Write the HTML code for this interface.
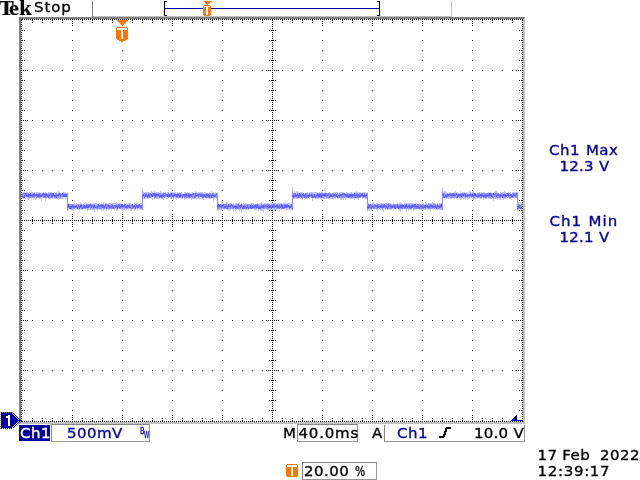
<!DOCTYPE html>
<html><head><meta charset="utf-8"><title>Tek</title>
<style>
html,body{margin:0;padding:0;background:#fff;overflow:hidden}
#scr{position:relative;width:640px;height:480px;background:#fff;overflow:hidden}
#scr svg{position:absolute;left:0;top:0}
#scr span{position:absolute;white-space:pre;line-height:1}
.s{font:15px "DejaVu Sans","Liberation Sans",sans-serif;letter-spacing:0.46px;word-spacing:0.8px;-webkit-text-stroke:0.35px;transform:scaleY(0.96);transform-origin:0 13.2px}
.tek{font:bold 21px "Liberation Serif","DejaVu Serif",serif;letter-spacing:0.3px;transform:scaleX(1.06);transform-origin:0 0;-webkit-text-stroke:0.2px}
.tek::first-letter{letter-spacing:-4.6px}
.s i{font-style:normal;display:inline-block;transform:scaleX(0.72);transform-origin:0 50%}
.bw{font:9.5px "DejaVu Sans","Liberation Sans",sans-serif;transform-origin:0 0;-webkit-text-stroke:0.3px}
</style></head><body><div id="scr">
<svg width="640" height="480" viewBox="0 0 640 480" shape-rendering="crispEdges"><rect x="19" y="17" width="506" height="2" fill="#808080"/><rect x="19" y="17" width="2" height="407" fill="#808080"/><rect x="523" y="19" width="2" height="405" fill="#c0c0c0"/><rect x="21" y="422" width="504" height="2" fill="#c0c0c0"/><rect x="524" y="18" width="1" height="1" fill="#c0c0c0"/><rect x="20" y="423" width="1" height="1" fill="#c0c0c0"/><rect x="93" y="16" width="359" height="1" fill="#c0c0c0"/><rect x="92" y="1" width="1" height="16" fill="#808080"/><rect x="451" y="1" width="1" height="16" fill="#c0c0c0"/><path fill="#000" d="M21 19h2v1h-2zM24 19h1v1h-1zM26 19h1v1h-1zM28 19h1v1h-1zM30 19h1v1h-1zM32 19h1v1h-1zM34 19h1v1h-1zM36 19h1v1h-1zM38 19h1v1h-1zM40 19h1v1h-1zM42 19h1v1h-1zM44 19h1v1h-1zM46 19h1v1h-1zM48 19h1v1h-1zM50 19h1v1h-1zM52 19h1v1h-1zM54 19h1v1h-1zM56 19h1v1h-1zM58 19h1v1h-1zM60 19h1v1h-1zM62 19h1v1h-1zM64 19h1v1h-1zM66 19h1v1h-1zM68 19h1v1h-1zM70 19h1v1h-1zM72 19h1v1h-1zM74 19h1v1h-1zM76 19h1v1h-1zM78 19h1v1h-1zM80 19h1v1h-1zM82 19h1v1h-1zM84 19h1v1h-1zM86 19h1v1h-1zM88 19h1v1h-1zM90 19h1v1h-1zM92 19h1v1h-1zM94 19h1v1h-1zM96 19h1v1h-1zM98 19h1v1h-1zM100 19h1v1h-1zM102 19h1v1h-1zM104 19h1v1h-1zM106 19h1v1h-1zM108 19h1v1h-1zM110 19h1v1h-1zM112 19h1v1h-1zM114 19h1v1h-1zM116 19h1v1h-1zM118 19h1v1h-1zM120 19h1v1h-1zM122 19h1v1h-1zM124 19h1v1h-1zM126 19h1v1h-1zM128 19h1v1h-1zM130 19h1v1h-1zM132 19h1v1h-1zM134 19h1v1h-1zM136 19h1v1h-1zM138 19h1v1h-1zM140 19h1v1h-1zM142 19h1v1h-1zM144 19h1v1h-1zM146 19h1v1h-1zM148 19h1v1h-1zM150 19h1v1h-1zM152 19h1v1h-1zM154 19h1v1h-1zM156 19h1v1h-1zM158 19h1v1h-1zM160 19h1v1h-1zM162 19h1v1h-1zM164 19h1v1h-1zM166 19h1v1h-1zM168 19h1v1h-1zM170 19h1v1h-1zM172 19h1v1h-1zM174 19h1v1h-1zM176 19h1v1h-1zM178 19h1v1h-1zM180 19h1v1h-1zM182 19h1v1h-1zM184 19h1v1h-1zM186 19h1v1h-1zM188 19h1v1h-1zM190 19h1v1h-1zM192 19h1v1h-1zM194 19h1v1h-1zM196 19h1v1h-1zM198 19h1v1h-1zM200 19h1v1h-1zM202 19h1v1h-1zM204 19h1v1h-1zM206 19h1v1h-1zM208 19h1v1h-1zM210 19h1v1h-1zM212 19h1v1h-1zM214 19h1v1h-1zM216 19h1v1h-1zM218 19h1v1h-1zM220 19h1v1h-1zM222 19h1v1h-1zM224 19h1v1h-1zM226 19h1v1h-1zM228 19h1v1h-1zM230 19h1v1h-1zM232 19h1v1h-1zM234 19h1v1h-1zM236 19h1v1h-1zM238 19h1v1h-1zM240 19h1v1h-1zM242 19h1v1h-1zM244 19h1v1h-1zM246 19h1v1h-1zM248 19h1v1h-1zM250 19h1v1h-1zM252 19h1v1h-1zM254 19h1v1h-1zM256 19h1v1h-1zM258 19h1v1h-1zM260 19h1v1h-1zM262 19h1v1h-1zM264 19h1v1h-1zM266 19h1v1h-1zM268 19h1v1h-1zM270 19h1v1h-1zM272 19h1v1h-1zM274 19h1v1h-1zM276 19h1v1h-1zM278 19h1v1h-1zM280 19h1v1h-1zM282 19h1v1h-1zM284 19h1v1h-1zM286 19h1v1h-1zM288 19h1v1h-1zM290 19h1v1h-1zM292 19h1v1h-1zM294 19h1v1h-1zM296 19h1v1h-1zM298 19h1v1h-1zM300 19h1v1h-1zM302 19h1v1h-1zM304 19h1v1h-1zM306 19h1v1h-1zM308 19h1v1h-1zM310 19h1v1h-1zM312 19h1v1h-1zM314 19h1v1h-1zM316 19h1v1h-1zM318 19h1v1h-1zM320 19h1v1h-1zM322 19h1v1h-1zM324 19h1v1h-1zM326 19h1v1h-1zM328 19h1v1h-1zM330 19h1v1h-1zM332 19h1v1h-1zM334 19h1v1h-1zM336 19h1v1h-1zM338 19h1v1h-1zM340 19h1v1h-1zM342 19h1v1h-1zM344 19h1v1h-1zM346 19h1v1h-1zM348 19h1v1h-1zM350 19h1v1h-1zM352 19h1v1h-1zM354 19h1v1h-1zM356 19h1v1h-1zM358 19h1v1h-1zM360 19h1v1h-1zM362 19h1v1h-1zM364 19h1v1h-1zM366 19h1v1h-1zM368 19h1v1h-1zM370 19h1v1h-1zM372 19h1v1h-1zM374 19h1v1h-1zM376 19h1v1h-1zM378 19h1v1h-1zM380 19h1v1h-1zM382 19h1v1h-1zM384 19h1v1h-1zM386 19h1v1h-1zM388 19h1v1h-1zM390 19h1v1h-1zM392 19h1v1h-1zM394 19h1v1h-1zM396 19h1v1h-1zM398 19h1v1h-1zM400 19h1v1h-1zM402 19h1v1h-1zM404 19h1v1h-1zM406 19h1v1h-1zM408 19h1v1h-1zM410 19h1v1h-1zM412 19h1v1h-1zM414 19h1v1h-1zM416 19h1v1h-1zM418 19h1v1h-1zM420 19h1v1h-1zM422 19h1v1h-1zM424 19h1v1h-1zM426 19h1v1h-1zM428 19h1v1h-1zM430 19h1v1h-1zM432 19h1v1h-1zM434 19h1v1h-1zM436 19h1v1h-1zM438 19h1v1h-1zM440 19h1v1h-1zM442 19h1v1h-1zM444 19h1v1h-1zM446 19h1v1h-1zM448 19h1v1h-1zM450 19h1v1h-1zM452 19h1v1h-1zM454 19h1v1h-1zM456 19h1v1h-1zM458 19h1v1h-1zM460 19h1v1h-1zM462 19h1v1h-1zM464 19h1v1h-1zM466 19h1v1h-1zM468 19h1v1h-1zM470 19h1v1h-1zM472 19h1v1h-1zM474 19h1v1h-1zM476 19h1v1h-1zM478 19h1v1h-1zM480 19h1v1h-1zM482 19h1v1h-1zM484 19h1v1h-1zM486 19h1v1h-1zM488 19h1v1h-1zM490 19h1v1h-1zM492 19h1v1h-1zM494 19h1v1h-1zM496 19h1v1h-1zM498 19h1v1h-1zM500 19h1v1h-1zM502 19h1v1h-1zM504 19h1v1h-1zM506 19h1v1h-1zM508 19h1v1h-1zM510 19h1v1h-1zM512 19h1v1h-1zM514 19h1v1h-1zM516 19h1v1h-1zM518 19h1v1h-1zM520 19h1v1h-1zM522 19h1v1h-1zM21 20h1v1h-1zM32 20h1v1h-1zM42 20h1v1h-1zM52 20h1v1h-1zM62 20h1v1h-1zM82 20h1v1h-1zM92 20h1v1h-1zM102 20h1v1h-1zM112 20h1v1h-1zM132 20h1v1h-1zM142 20h1v1h-1zM152 20h1v1h-1zM162 20h1v1h-1zM182 20h1v1h-1zM192 20h1v1h-1zM202 20h1v1h-1zM212 20h1v1h-1zM232 20h1v1h-1zM242 20h1v1h-1zM252 20h1v1h-1zM262 20h1v1h-1zM272 20h1v1h-1zM282 20h1v1h-1zM292 20h1v1h-1zM302 20h1v1h-1zM312 20h1v1h-1zM332 20h1v1h-1zM342 20h1v1h-1zM352 20h1v1h-1zM362 20h1v1h-1zM382 20h1v1h-1zM392 20h1v1h-1zM402 20h1v1h-1zM412 20h1v1h-1zM432 20h1v1h-1zM442 20h1v1h-1zM452 20h1v1h-1zM462 20h1v1h-1zM482 20h1v1h-1zM492 20h1v1h-1zM502 20h1v1h-1zM512 20h1v1h-1zM522 20h1v1h-1zM72 21h1v1h-1zM122 21h1v1h-1zM172 21h1v1h-1zM222 21h1v1h-1zM322 21h1v1h-1zM372 21h1v1h-1zM422 21h1v1h-1zM472 21h1v1h-1zM21 22h1v1h-1zM32 22h1v1h-1zM42 22h1v1h-1zM52 22h1v1h-1zM62 22h1v1h-1zM82 22h1v1h-1zM92 22h1v1h-1zM102 22h1v1h-1zM112 22h1v1h-1zM132 22h1v1h-1zM142 22h1v1h-1zM152 22h1v1h-1zM162 22h1v1h-1zM182 22h1v1h-1zM192 22h1v1h-1zM202 22h1v1h-1zM212 22h1v1h-1zM232 22h1v1h-1zM242 22h1v1h-1zM252 22h1v1h-1zM262 22h1v1h-1zM272 22h1v1h-1zM282 22h1v1h-1zM292 22h1v1h-1zM302 22h1v1h-1zM312 22h1v1h-1zM332 22h1v1h-1zM342 22h1v1h-1zM352 22h1v1h-1zM362 22h1v1h-1zM382 22h1v1h-1zM392 22h1v1h-1zM402 22h1v1h-1zM412 22h1v1h-1zM432 22h1v1h-1zM442 22h1v1h-1zM452 22h1v1h-1zM462 22h1v1h-1zM482 22h1v1h-1zM492 22h1v1h-1zM502 22h1v1h-1zM512 22h1v1h-1zM522 22h1v1h-1zM72 23h1v1h-1zM122 23h1v1h-1zM172 23h1v1h-1zM222 23h1v1h-1zM322 23h1v1h-1zM372 23h1v1h-1zM422 23h1v1h-1zM472 23h1v1h-1zM21 24h1v1h-1zM272 24h1v1h-1zM522 24h1v1h-1zM72 25h1v1h-1zM122 25h1v1h-1zM172 25h1v1h-1zM222 25h1v1h-1zM322 25h1v1h-1zM372 25h1v1h-1zM422 25h1v1h-1zM472 25h1v1h-1zM21 26h1v1h-1zM272 26h1v1h-1zM522 26h1v1h-1zM21 28h1v1h-1zM272 28h1v1h-1zM522 28h1v1h-1zM21 30h2v1h-2zM24 30h1v1h-1zM72 30h1v1h-1zM122 30h1v1h-1zM172 30h1v1h-1zM222 30h1v1h-1zM269 30h1v1h-1zM271 30h3v1h-3zM275 30h1v1h-1zM322 30h1v1h-1zM372 30h1v1h-1zM422 30h1v1h-1zM472 30h1v1h-1zM519 30h1v1h-1zM521 30h2v1h-2zM21 32h1v1h-1zM272 32h1v1h-1zM522 32h1v1h-1zM21 34h1v1h-1zM272 34h1v1h-1zM522 34h1v1h-1zM21 36h1v1h-1zM272 36h1v1h-1zM522 36h1v1h-1zM21 38h1v1h-1zM272 38h1v1h-1zM522 38h1v1h-1zM21 40h2v1h-2zM24 40h1v1h-1zM72 40h1v1h-1zM122 40h1v1h-1zM172 40h1v1h-1zM222 40h1v1h-1zM269 40h1v1h-1zM271 40h3v1h-3zM275 40h1v1h-1zM322 40h1v1h-1zM372 40h1v1h-1zM422 40h1v1h-1zM472 40h1v1h-1zM519 40h1v1h-1zM521 40h2v1h-2zM21 42h1v1h-1zM272 42h1v1h-1zM522 42h1v1h-1zM21 44h1v1h-1zM272 44h1v1h-1zM522 44h1v1h-1zM21 46h1v1h-1zM272 46h1v1h-1zM522 46h1v1h-1zM21 48h1v1h-1zM272 48h1v1h-1zM522 48h1v1h-1zM21 50h2v1h-2zM24 50h1v1h-1zM72 50h1v1h-1zM122 50h1v1h-1zM172 50h1v1h-1zM222 50h1v1h-1zM269 50h1v1h-1zM271 50h3v1h-3zM275 50h1v1h-1zM322 50h1v1h-1zM372 50h1v1h-1zM422 50h1v1h-1zM472 50h1v1h-1zM519 50h1v1h-1zM521 50h2v1h-2zM21 52h1v1h-1zM272 52h1v1h-1zM522 52h1v1h-1zM21 54h1v1h-1zM272 54h1v1h-1zM522 54h1v1h-1zM21 56h1v1h-1zM272 56h1v1h-1zM522 56h1v1h-1zM21 58h1v1h-1zM272 58h1v1h-1zM522 58h1v1h-1zM21 60h2v1h-2zM24 60h1v1h-1zM72 60h1v1h-1zM122 60h1v1h-1zM172 60h1v1h-1zM222 60h1v1h-1zM269 60h1v1h-1zM271 60h3v1h-3zM275 60h1v1h-1zM322 60h1v1h-1zM372 60h1v1h-1zM422 60h1v1h-1zM472 60h1v1h-1zM519 60h1v1h-1zM521 60h2v1h-2zM21 62h1v1h-1zM272 62h1v1h-1zM522 62h1v1h-1zM21 64h1v1h-1zM272 64h1v1h-1zM522 64h1v1h-1zM21 66h1v1h-1zM272 66h1v1h-1zM522 66h1v1h-1zM21 68h1v1h-1zM272 68h1v1h-1zM522 68h1v1h-1zM21 70h1v1h-1zM23 70h1v1h-1zM25 70h1v1h-1zM27 70h1v1h-1zM32 70h1v1h-1zM42 70h1v1h-1zM52 70h1v1h-1zM62 70h1v1h-1zM72 70h1v1h-1zM82 70h1v1h-1zM92 70h1v1h-1zM102 70h1v1h-1zM112 70h1v1h-1zM122 70h1v1h-1zM132 70h1v1h-1zM142 70h1v1h-1zM152 70h1v1h-1zM162 70h1v1h-1zM172 70h1v1h-1zM182 70h1v1h-1zM192 70h1v1h-1zM202 70h1v1h-1zM212 70h1v1h-1zM222 70h1v1h-1zM232 70h1v1h-1zM242 70h1v1h-1zM252 70h1v1h-1zM262 70h1v1h-1zM266 70h1v1h-1zM268 70h1v1h-1zM270 70h1v1h-1zM272 70h1v1h-1zM274 70h1v1h-1zM276 70h1v1h-1zM278 70h1v1h-1zM282 70h1v1h-1zM292 70h1v1h-1zM302 70h1v1h-1zM312 70h1v1h-1zM322 70h1v1h-1zM332 70h1v1h-1zM342 70h1v1h-1zM352 70h1v1h-1zM362 70h1v1h-1zM372 70h1v1h-1zM382 70h1v1h-1zM392 70h1v1h-1zM402 70h1v1h-1zM412 70h1v1h-1zM422 70h1v1h-1zM432 70h1v1h-1zM442 70h1v1h-1zM452 70h1v1h-1zM462 70h1v1h-1zM472 70h1v1h-1zM482 70h1v1h-1zM492 70h1v1h-1zM502 70h1v1h-1zM512 70h1v1h-1zM516 70h1v1h-1zM518 70h1v1h-1zM520 70h1v1h-1zM522 70h1v1h-1zM21 72h1v1h-1zM272 72h1v1h-1zM522 72h1v1h-1zM21 74h1v1h-1zM272 74h1v1h-1zM522 74h1v1h-1zM21 76h1v1h-1zM272 76h1v1h-1zM522 76h1v1h-1zM21 78h1v1h-1zM272 78h1v1h-1zM522 78h1v1h-1zM21 80h2v1h-2zM24 80h1v1h-1zM72 80h1v1h-1zM122 80h1v1h-1zM172 80h1v1h-1zM222 80h1v1h-1zM269 80h1v1h-1zM271 80h3v1h-3zM275 80h1v1h-1zM322 80h1v1h-1zM372 80h1v1h-1zM422 80h1v1h-1zM472 80h1v1h-1zM519 80h1v1h-1zM521 80h2v1h-2zM21 82h1v1h-1zM272 82h1v1h-1zM522 82h1v1h-1zM21 84h1v1h-1zM272 84h1v1h-1zM522 84h1v1h-1zM21 86h1v1h-1zM272 86h1v1h-1zM522 86h1v1h-1zM21 88h1v1h-1zM272 88h1v1h-1zM522 88h1v1h-1zM21 90h2v1h-2zM24 90h1v1h-1zM72 90h1v1h-1zM122 90h1v1h-1zM172 90h1v1h-1zM222 90h1v1h-1zM269 90h1v1h-1zM271 90h3v1h-3zM275 90h1v1h-1zM322 90h1v1h-1zM372 90h1v1h-1zM422 90h1v1h-1zM472 90h1v1h-1zM519 90h1v1h-1zM521 90h2v1h-2zM21 92h1v1h-1zM272 92h1v1h-1zM522 92h1v1h-1zM21 94h1v1h-1zM272 94h1v1h-1zM522 94h1v1h-1zM21 96h1v1h-1zM272 96h1v1h-1zM522 96h1v1h-1zM21 98h1v1h-1zM272 98h1v1h-1zM522 98h1v1h-1zM21 100h2v1h-2zM24 100h1v1h-1zM72 100h1v1h-1zM122 100h1v1h-1zM172 100h1v1h-1zM222 100h1v1h-1zM269 100h1v1h-1zM271 100h3v1h-3zM275 100h1v1h-1zM322 100h1v1h-1zM372 100h1v1h-1zM422 100h1v1h-1zM472 100h1v1h-1zM519 100h1v1h-1zM521 100h2v1h-2zM21 102h1v1h-1zM272 102h1v1h-1zM522 102h1v1h-1zM21 104h1v1h-1zM272 104h1v1h-1zM522 104h1v1h-1zM21 106h1v1h-1zM272 106h1v1h-1zM522 106h1v1h-1zM21 108h1v1h-1zM272 108h1v1h-1zM522 108h1v1h-1zM21 110h2v1h-2zM24 110h1v1h-1zM72 110h1v1h-1zM122 110h1v1h-1zM172 110h1v1h-1zM222 110h1v1h-1zM269 110h1v1h-1zM271 110h3v1h-3zM275 110h1v1h-1zM322 110h1v1h-1zM372 110h1v1h-1zM422 110h1v1h-1zM472 110h1v1h-1zM519 110h1v1h-1zM521 110h2v1h-2zM21 112h1v1h-1zM272 112h1v1h-1zM522 112h1v1h-1zM21 114h1v1h-1zM272 114h1v1h-1zM522 114h1v1h-1zM21 116h1v1h-1zM272 116h1v1h-1zM522 116h1v1h-1zM21 118h1v1h-1zM272 118h1v1h-1zM522 118h1v1h-1zM21 120h1v1h-1zM23 120h1v1h-1zM25 120h1v1h-1zM27 120h1v1h-1zM32 120h1v1h-1zM42 120h1v1h-1zM52 120h1v1h-1zM62 120h1v1h-1zM72 120h1v1h-1zM82 120h1v1h-1zM92 120h1v1h-1zM102 120h1v1h-1zM112 120h1v1h-1zM122 120h1v1h-1zM132 120h1v1h-1zM142 120h1v1h-1zM152 120h1v1h-1zM162 120h1v1h-1zM172 120h1v1h-1zM182 120h1v1h-1zM192 120h1v1h-1zM202 120h1v1h-1zM212 120h1v1h-1zM222 120h1v1h-1zM232 120h1v1h-1zM242 120h1v1h-1zM252 120h1v1h-1zM262 120h1v1h-1zM266 120h1v1h-1zM268 120h1v1h-1zM270 120h1v1h-1zM272 120h1v1h-1zM274 120h1v1h-1zM276 120h1v1h-1zM278 120h1v1h-1zM282 120h1v1h-1zM292 120h1v1h-1zM302 120h1v1h-1zM312 120h1v1h-1zM322 120h1v1h-1zM332 120h1v1h-1zM342 120h1v1h-1zM352 120h1v1h-1zM362 120h1v1h-1zM372 120h1v1h-1zM382 120h1v1h-1zM392 120h1v1h-1zM402 120h1v1h-1zM412 120h1v1h-1zM422 120h1v1h-1zM432 120h1v1h-1zM442 120h1v1h-1zM452 120h1v1h-1zM462 120h1v1h-1zM472 120h1v1h-1zM482 120h1v1h-1zM492 120h1v1h-1zM502 120h1v1h-1zM512 120h1v1h-1zM516 120h1v1h-1zM518 120h1v1h-1zM520 120h1v1h-1zM522 120h1v1h-1zM21 122h1v1h-1zM272 122h1v1h-1zM522 122h1v1h-1zM21 124h1v1h-1zM272 124h1v1h-1zM522 124h1v1h-1zM21 126h1v1h-1zM272 126h1v1h-1zM522 126h1v1h-1zM21 128h1v1h-1zM272 128h1v1h-1zM522 128h1v1h-1zM21 130h2v1h-2zM24 130h1v1h-1zM72 130h1v1h-1zM122 130h1v1h-1zM172 130h1v1h-1zM222 130h1v1h-1zM269 130h1v1h-1zM271 130h3v1h-3zM275 130h1v1h-1zM322 130h1v1h-1zM372 130h1v1h-1zM422 130h1v1h-1zM472 130h1v1h-1zM519 130h1v1h-1zM521 130h2v1h-2zM21 132h1v1h-1zM272 132h1v1h-1zM522 132h1v1h-1zM21 134h1v1h-1zM272 134h1v1h-1zM522 134h1v1h-1zM21 136h1v1h-1zM272 136h1v1h-1zM522 136h1v1h-1zM21 138h1v1h-1zM272 138h1v1h-1zM522 138h1v1h-1zM21 140h2v1h-2zM24 140h1v1h-1zM72 140h1v1h-1zM122 140h1v1h-1zM172 140h1v1h-1zM222 140h1v1h-1zM269 140h1v1h-1zM271 140h3v1h-3zM275 140h1v1h-1zM322 140h1v1h-1zM372 140h1v1h-1zM422 140h1v1h-1zM472 140h1v1h-1zM519 140h1v1h-1zM521 140h2v1h-2zM21 142h1v1h-1zM272 142h1v1h-1zM522 142h1v1h-1zM21 144h1v1h-1zM272 144h1v1h-1zM522 144h1v1h-1zM21 146h1v1h-1zM272 146h1v1h-1zM522 146h1v1h-1zM21 148h1v1h-1zM272 148h1v1h-1zM522 148h1v1h-1zM21 150h2v1h-2zM24 150h1v1h-1zM72 150h1v1h-1zM122 150h1v1h-1zM172 150h1v1h-1zM222 150h1v1h-1zM269 150h1v1h-1zM271 150h3v1h-3zM275 150h1v1h-1zM322 150h1v1h-1zM372 150h1v1h-1zM422 150h1v1h-1zM472 150h1v1h-1zM519 150h1v1h-1zM521 150h2v1h-2zM21 152h1v1h-1zM272 152h1v1h-1zM522 152h1v1h-1zM21 154h1v1h-1zM272 154h1v1h-1zM522 154h1v1h-1zM21 156h1v1h-1zM272 156h1v1h-1zM522 156h1v1h-1zM21 158h1v1h-1zM272 158h1v1h-1zM522 158h1v1h-1zM21 160h2v1h-2zM24 160h1v1h-1zM72 160h1v1h-1zM122 160h1v1h-1zM172 160h1v1h-1zM222 160h1v1h-1zM269 160h1v1h-1zM271 160h3v1h-3zM275 160h1v1h-1zM322 160h1v1h-1zM372 160h1v1h-1zM422 160h1v1h-1zM472 160h1v1h-1zM519 160h1v1h-1zM521 160h2v1h-2zM21 162h1v1h-1zM272 162h1v1h-1zM522 162h1v1h-1zM21 164h1v1h-1zM272 164h1v1h-1zM522 164h1v1h-1zM21 166h1v1h-1zM272 166h1v1h-1zM522 166h1v1h-1zM21 168h1v1h-1zM272 168h1v1h-1zM522 168h1v1h-1zM21 170h1v1h-1zM23 170h1v1h-1zM25 170h1v1h-1zM27 170h1v1h-1zM32 170h1v1h-1zM42 170h1v1h-1zM52 170h1v1h-1zM62 170h1v1h-1zM72 170h1v1h-1zM82 170h1v1h-1zM92 170h1v1h-1zM102 170h1v1h-1zM112 170h1v1h-1zM122 170h1v1h-1zM132 170h1v1h-1zM142 170h1v1h-1zM152 170h1v1h-1zM162 170h1v1h-1zM172 170h1v1h-1zM182 170h1v1h-1zM192 170h1v1h-1zM202 170h1v1h-1zM212 170h1v1h-1zM222 170h1v1h-1zM232 170h1v1h-1zM242 170h1v1h-1zM252 170h1v1h-1zM262 170h1v1h-1zM266 170h1v1h-1zM268 170h1v1h-1zM270 170h1v1h-1zM272 170h1v1h-1zM274 170h1v1h-1zM276 170h1v1h-1zM278 170h1v1h-1zM282 170h1v1h-1zM292 170h1v1h-1zM302 170h1v1h-1zM312 170h1v1h-1zM322 170h1v1h-1zM332 170h1v1h-1zM342 170h1v1h-1zM352 170h1v1h-1zM362 170h1v1h-1zM372 170h1v1h-1zM382 170h1v1h-1zM392 170h1v1h-1zM402 170h1v1h-1zM412 170h1v1h-1zM422 170h1v1h-1zM432 170h1v1h-1zM442 170h1v1h-1zM452 170h1v1h-1zM462 170h1v1h-1zM472 170h1v1h-1zM482 170h1v1h-1zM492 170h1v1h-1zM502 170h1v1h-1zM512 170h1v1h-1zM516 170h1v1h-1zM518 170h1v1h-1zM520 170h1v1h-1zM522 170h1v1h-1zM21 172h1v1h-1zM272 172h1v1h-1zM522 172h1v1h-1zM21 174h1v1h-1zM272 174h1v1h-1zM522 174h1v1h-1zM21 176h1v1h-1zM272 176h1v1h-1zM522 176h1v1h-1zM21 178h1v1h-1zM272 178h1v1h-1zM522 178h1v1h-1zM21 180h2v1h-2zM24 180h1v1h-1zM72 180h1v1h-1zM122 180h1v1h-1zM172 180h1v1h-1zM222 180h1v1h-1zM269 180h1v1h-1zM271 180h3v1h-3zM275 180h1v1h-1zM322 180h1v1h-1zM372 180h1v1h-1zM422 180h1v1h-1zM472 180h1v1h-1zM519 180h1v1h-1zM521 180h2v1h-2zM21 182h1v1h-1zM272 182h1v1h-1zM522 182h1v1h-1zM21 184h1v1h-1zM272 184h1v1h-1zM522 184h1v1h-1zM21 186h1v1h-1zM272 186h1v1h-1zM522 186h1v1h-1zM21 188h1v1h-1zM272 188h1v1h-1zM522 188h1v1h-1zM21 190h2v1h-2zM24 190h1v1h-1zM72 190h1v1h-1zM122 190h1v1h-1zM172 190h1v1h-1zM222 190h1v1h-1zM269 190h1v1h-1zM271 190h3v1h-3zM275 190h1v1h-1zM322 190h1v1h-1zM372 190h1v1h-1zM422 190h1v1h-1zM472 190h1v1h-1zM519 190h1v1h-1zM521 190h2v1h-2zM21 192h1v1h-1zM272 192h1v1h-1zM522 192h1v1h-1zM21 194h1v1h-1zM272 194h1v1h-1zM522 194h1v1h-1zM21 196h1v1h-1zM272 196h1v1h-1zM522 196h1v1h-1zM21 198h1v1h-1zM272 198h1v1h-1zM522 198h1v1h-1zM21 200h2v1h-2zM24 200h1v1h-1zM72 200h1v1h-1zM122 200h1v1h-1zM172 200h1v1h-1zM222 200h1v1h-1zM269 200h1v1h-1zM271 200h3v1h-3zM275 200h1v1h-1zM322 200h1v1h-1zM372 200h1v1h-1zM422 200h1v1h-1zM472 200h1v1h-1zM519 200h1v1h-1zM521 200h2v1h-2zM21 202h1v1h-1zM272 202h1v1h-1zM522 202h1v1h-1zM21 204h1v1h-1zM272 204h1v1h-1zM522 204h1v1h-1zM21 206h1v1h-1zM272 206h1v1h-1zM522 206h1v1h-1zM21 208h1v1h-1zM272 208h1v1h-1zM522 208h1v1h-1zM21 210h2v1h-2zM24 210h1v1h-1zM72 210h1v1h-1zM122 210h1v1h-1zM172 210h1v1h-1zM222 210h1v1h-1zM269 210h1v1h-1zM271 210h3v1h-3zM275 210h1v1h-1zM322 210h1v1h-1zM372 210h1v1h-1zM422 210h1v1h-1zM472 210h1v1h-1zM519 210h1v1h-1zM521 210h2v1h-2zM21 212h1v1h-1zM272 212h1v1h-1zM522 212h1v1h-1zM21 214h1v1h-1zM72 214h1v1h-1zM122 214h1v1h-1zM172 214h1v1h-1zM222 214h1v1h-1zM272 214h1v1h-1zM322 214h1v1h-1zM372 214h1v1h-1zM422 214h1v1h-1zM472 214h1v1h-1zM522 214h1v1h-1zM21 216h1v1h-1zM72 216h1v1h-1zM122 216h1v1h-1zM172 216h1v1h-1zM222 216h1v1h-1zM272 216h1v1h-1zM322 216h1v1h-1zM372 216h1v1h-1zM422 216h1v1h-1zM472 216h1v1h-1zM522 216h1v1h-1zM32 217h1v1h-1zM42 217h1v1h-1zM52 217h1v1h-1zM62 217h1v1h-1zM82 217h1v1h-1zM92 217h1v1h-1zM102 217h1v1h-1zM112 217h1v1h-1zM132 217h1v1h-1zM142 217h1v1h-1zM152 217h1v1h-1zM162 217h1v1h-1zM182 217h1v1h-1zM192 217h1v1h-1zM202 217h1v1h-1zM212 217h1v1h-1zM232 217h1v1h-1zM242 217h1v1h-1zM252 217h1v1h-1zM262 217h1v1h-1zM282 217h1v1h-1zM292 217h1v1h-1zM302 217h1v1h-1zM312 217h1v1h-1zM332 217h1v1h-1zM342 217h1v1h-1zM352 217h1v1h-1zM362 217h1v1h-1zM382 217h1v1h-1zM392 217h1v1h-1zM402 217h1v1h-1zM412 217h1v1h-1zM432 217h1v1h-1zM442 217h1v1h-1zM452 217h1v1h-1zM462 217h1v1h-1zM482 217h1v1h-1zM492 217h1v1h-1zM502 217h1v1h-1zM512 217h1v1h-1zM21 218h1v1h-1zM72 218h1v1h-1zM122 218h1v1h-1zM172 218h1v1h-1zM222 218h1v1h-1zM272 218h1v1h-1zM322 218h1v1h-1zM372 218h1v1h-1zM422 218h1v1h-1zM472 218h1v1h-1zM522 218h1v1h-1zM32 219h1v1h-1zM42 219h1v1h-1zM52 219h1v1h-1zM62 219h1v1h-1zM82 219h1v1h-1zM92 219h1v1h-1zM102 219h1v1h-1zM112 219h1v1h-1zM132 219h1v1h-1zM142 219h1v1h-1zM152 219h1v1h-1zM162 219h1v1h-1zM182 219h1v1h-1zM192 219h1v1h-1zM202 219h1v1h-1zM212 219h1v1h-1zM232 219h1v1h-1zM242 219h1v1h-1zM252 219h1v1h-1zM262 219h1v1h-1zM282 219h1v1h-1zM292 219h1v1h-1zM302 219h1v1h-1zM312 219h1v1h-1zM332 219h1v1h-1zM342 219h1v1h-1zM352 219h1v1h-1zM362 219h1v1h-1zM382 219h1v1h-1zM392 219h1v1h-1zM402 219h1v1h-1zM412 219h1v1h-1zM432 219h1v1h-1zM442 219h1v1h-1zM452 219h1v1h-1zM462 219h1v1h-1zM482 219h1v1h-1zM492 219h1v1h-1zM502 219h1v1h-1zM512 219h1v1h-1zM21 220h2v1h-2zM24 220h1v1h-1zM26 220h1v1h-1zM28 220h1v1h-1zM30 220h1v1h-1zM32 220h1v1h-1zM34 220h1v1h-1zM36 220h1v1h-1zM38 220h1v1h-1zM40 220h1v1h-1zM42 220h1v1h-1zM44 220h1v1h-1zM46 220h1v1h-1zM48 220h1v1h-1zM50 220h1v1h-1zM52 220h1v1h-1zM54 220h1v1h-1zM56 220h1v1h-1zM58 220h1v1h-1zM60 220h1v1h-1zM62 220h1v1h-1zM64 220h1v1h-1zM66 220h1v1h-1zM68 220h1v1h-1zM70 220h1v1h-1zM72 220h1v1h-1zM74 220h1v1h-1zM76 220h1v1h-1zM78 220h1v1h-1zM80 220h1v1h-1zM82 220h1v1h-1zM84 220h1v1h-1zM86 220h1v1h-1zM88 220h1v1h-1zM90 220h1v1h-1zM92 220h1v1h-1zM94 220h1v1h-1zM96 220h1v1h-1zM98 220h1v1h-1zM100 220h1v1h-1zM102 220h1v1h-1zM104 220h1v1h-1zM106 220h1v1h-1zM108 220h1v1h-1zM110 220h1v1h-1zM112 220h1v1h-1zM114 220h1v1h-1zM116 220h1v1h-1zM118 220h1v1h-1zM120 220h1v1h-1zM122 220h1v1h-1zM124 220h1v1h-1zM126 220h1v1h-1zM128 220h1v1h-1zM130 220h1v1h-1zM132 220h1v1h-1zM134 220h1v1h-1zM136 220h1v1h-1zM138 220h1v1h-1zM140 220h1v1h-1zM142 220h1v1h-1zM144 220h1v1h-1zM146 220h1v1h-1zM148 220h1v1h-1zM150 220h1v1h-1zM152 220h1v1h-1zM154 220h1v1h-1zM156 220h1v1h-1zM158 220h1v1h-1zM160 220h1v1h-1zM162 220h1v1h-1zM164 220h1v1h-1zM166 220h1v1h-1zM168 220h1v1h-1zM170 220h1v1h-1zM172 220h1v1h-1zM174 220h1v1h-1zM176 220h1v1h-1zM178 220h1v1h-1zM180 220h1v1h-1zM182 220h1v1h-1zM184 220h1v1h-1zM186 220h1v1h-1zM188 220h1v1h-1zM190 220h1v1h-1zM192 220h1v1h-1zM194 220h1v1h-1zM196 220h1v1h-1zM198 220h1v1h-1zM200 220h1v1h-1zM202 220h1v1h-1zM204 220h1v1h-1zM206 220h1v1h-1zM208 220h1v1h-1zM210 220h1v1h-1zM212 220h1v1h-1zM214 220h1v1h-1zM216 220h1v1h-1zM218 220h1v1h-1zM220 220h1v1h-1zM222 220h1v1h-1zM224 220h1v1h-1zM226 220h1v1h-1zM228 220h1v1h-1zM230 220h1v1h-1zM232 220h1v1h-1zM234 220h1v1h-1zM236 220h1v1h-1zM238 220h1v1h-1zM240 220h1v1h-1zM242 220h1v1h-1zM244 220h1v1h-1zM246 220h1v1h-1zM248 220h1v1h-1zM250 220h1v1h-1zM252 220h1v1h-1zM254 220h1v1h-1zM256 220h1v1h-1zM258 220h1v1h-1zM260 220h1v1h-1zM262 220h1v1h-1zM264 220h1v1h-1zM266 220h1v1h-1zM268 220h1v1h-1zM270 220h1v1h-1zM272 220h1v1h-1zM274 220h1v1h-1zM276 220h1v1h-1zM278 220h1v1h-1zM280 220h1v1h-1zM282 220h1v1h-1zM284 220h1v1h-1zM286 220h1v1h-1zM288 220h1v1h-1zM290 220h1v1h-1zM292 220h1v1h-1zM294 220h1v1h-1zM296 220h1v1h-1zM298 220h1v1h-1zM300 220h1v1h-1zM302 220h1v1h-1zM304 220h1v1h-1zM306 220h1v1h-1zM308 220h1v1h-1zM310 220h1v1h-1zM312 220h1v1h-1zM314 220h1v1h-1zM316 220h1v1h-1zM318 220h1v1h-1zM320 220h1v1h-1zM322 220h1v1h-1zM324 220h1v1h-1zM326 220h1v1h-1zM328 220h1v1h-1zM330 220h1v1h-1zM332 220h1v1h-1zM334 220h1v1h-1zM336 220h1v1h-1zM338 220h1v1h-1zM340 220h1v1h-1zM342 220h1v1h-1zM344 220h1v1h-1zM346 220h1v1h-1zM348 220h1v1h-1zM350 220h1v1h-1zM352 220h1v1h-1zM354 220h1v1h-1zM356 220h1v1h-1zM358 220h1v1h-1zM360 220h1v1h-1zM362 220h1v1h-1zM364 220h1v1h-1zM366 220h1v1h-1zM368 220h1v1h-1zM370 220h1v1h-1zM372 220h1v1h-1zM374 220h1v1h-1zM376 220h1v1h-1zM378 220h1v1h-1zM380 220h1v1h-1zM382 220h1v1h-1zM384 220h1v1h-1zM386 220h1v1h-1zM388 220h1v1h-1zM390 220h1v1h-1zM392 220h1v1h-1zM394 220h1v1h-1zM396 220h1v1h-1zM398 220h1v1h-1zM400 220h1v1h-1zM402 220h1v1h-1zM404 220h1v1h-1zM406 220h1v1h-1zM408 220h1v1h-1zM410 220h1v1h-1zM412 220h1v1h-1zM414 220h1v1h-1zM416 220h1v1h-1zM418 220h1v1h-1zM420 220h1v1h-1zM422 220h1v1h-1zM424 220h1v1h-1zM426 220h1v1h-1zM428 220h1v1h-1zM430 220h1v1h-1zM432 220h1v1h-1zM434 220h1v1h-1zM436 220h1v1h-1zM438 220h1v1h-1zM440 220h1v1h-1zM442 220h1v1h-1zM444 220h1v1h-1zM446 220h1v1h-1zM448 220h1v1h-1zM450 220h1v1h-1zM452 220h1v1h-1zM454 220h1v1h-1zM456 220h1v1h-1zM458 220h1v1h-1zM460 220h1v1h-1zM462 220h1v1h-1zM464 220h1v1h-1zM466 220h1v1h-1zM468 220h1v1h-1zM470 220h1v1h-1zM472 220h1v1h-1zM474 220h1v1h-1zM476 220h1v1h-1zM478 220h1v1h-1zM480 220h1v1h-1zM482 220h1v1h-1zM484 220h1v1h-1zM486 220h1v1h-1zM488 220h1v1h-1zM490 220h1v1h-1zM492 220h1v1h-1zM494 220h1v1h-1zM496 220h1v1h-1zM498 220h1v1h-1zM500 220h1v1h-1zM502 220h1v1h-1zM504 220h1v1h-1zM506 220h1v1h-1zM508 220h1v1h-1zM510 220h1v1h-1zM512 220h1v1h-1zM514 220h1v1h-1zM516 220h1v1h-1zM518 220h1v1h-1zM520 220h1v1h-1zM522 220h1v1h-1zM32 221h1v1h-1zM42 221h1v1h-1zM52 221h1v1h-1zM62 221h1v1h-1zM82 221h1v1h-1zM92 221h1v1h-1zM102 221h1v1h-1zM112 221h1v1h-1zM132 221h1v1h-1zM142 221h1v1h-1zM152 221h1v1h-1zM162 221h1v1h-1zM182 221h1v1h-1zM192 221h1v1h-1zM202 221h1v1h-1zM212 221h1v1h-1zM232 221h1v1h-1zM242 221h1v1h-1zM252 221h1v1h-1zM262 221h1v1h-1zM282 221h1v1h-1zM292 221h1v1h-1zM302 221h1v1h-1zM312 221h1v1h-1zM332 221h1v1h-1zM342 221h1v1h-1zM352 221h1v1h-1zM362 221h1v1h-1zM382 221h1v1h-1zM392 221h1v1h-1zM402 221h1v1h-1zM412 221h1v1h-1zM432 221h1v1h-1zM442 221h1v1h-1zM452 221h1v1h-1zM462 221h1v1h-1zM482 221h1v1h-1zM492 221h1v1h-1zM502 221h1v1h-1zM512 221h1v1h-1zM21 222h1v1h-1zM72 222h1v1h-1zM122 222h1v1h-1zM172 222h1v1h-1zM222 222h1v1h-1zM272 222h1v1h-1zM322 222h1v1h-1zM372 222h1v1h-1zM422 222h1v1h-1zM472 222h1v1h-1zM522 222h1v1h-1zM32 223h1v1h-1zM42 223h1v1h-1zM52 223h1v1h-1zM62 223h1v1h-1zM82 223h1v1h-1zM92 223h1v1h-1zM102 223h1v1h-1zM112 223h1v1h-1zM132 223h1v1h-1zM142 223h1v1h-1zM152 223h1v1h-1zM162 223h1v1h-1zM182 223h1v1h-1zM192 223h1v1h-1zM202 223h1v1h-1zM212 223h1v1h-1zM232 223h1v1h-1zM242 223h1v1h-1zM252 223h1v1h-1zM262 223h1v1h-1zM282 223h1v1h-1zM292 223h1v1h-1zM302 223h1v1h-1zM312 223h1v1h-1zM332 223h1v1h-1zM342 223h1v1h-1zM352 223h1v1h-1zM362 223h1v1h-1zM382 223h1v1h-1zM392 223h1v1h-1zM402 223h1v1h-1zM412 223h1v1h-1zM432 223h1v1h-1zM442 223h1v1h-1zM452 223h1v1h-1zM462 223h1v1h-1zM482 223h1v1h-1zM492 223h1v1h-1zM502 223h1v1h-1zM512 223h1v1h-1zM21 224h1v1h-1zM72 224h1v1h-1zM122 224h1v1h-1zM172 224h1v1h-1zM222 224h1v1h-1zM272 224h1v1h-1zM322 224h1v1h-1zM372 224h1v1h-1zM422 224h1v1h-1zM472 224h1v1h-1zM522 224h1v1h-1zM21 226h1v1h-1zM72 226h1v1h-1zM122 226h1v1h-1zM172 226h1v1h-1zM222 226h1v1h-1zM272 226h1v1h-1zM322 226h1v1h-1zM372 226h1v1h-1zM422 226h1v1h-1zM472 226h1v1h-1zM522 226h1v1h-1zM21 228h1v1h-1zM272 228h1v1h-1zM522 228h1v1h-1zM21 230h2v1h-2zM24 230h1v1h-1zM72 230h1v1h-1zM122 230h1v1h-1zM172 230h1v1h-1zM222 230h1v1h-1zM269 230h1v1h-1zM271 230h3v1h-3zM275 230h1v1h-1zM322 230h1v1h-1zM372 230h1v1h-1zM422 230h1v1h-1zM472 230h1v1h-1zM519 230h1v1h-1zM521 230h2v1h-2zM21 232h1v1h-1zM272 232h1v1h-1zM522 232h1v1h-1zM21 234h1v1h-1zM272 234h1v1h-1zM522 234h1v1h-1zM21 236h1v1h-1zM272 236h1v1h-1zM522 236h1v1h-1zM21 238h1v1h-1zM272 238h1v1h-1zM522 238h1v1h-1zM21 240h2v1h-2zM24 240h1v1h-1zM72 240h1v1h-1zM122 240h1v1h-1zM172 240h1v1h-1zM222 240h1v1h-1zM269 240h1v1h-1zM271 240h3v1h-3zM275 240h1v1h-1zM322 240h1v1h-1zM372 240h1v1h-1zM422 240h1v1h-1zM472 240h1v1h-1zM519 240h1v1h-1zM521 240h2v1h-2zM21 242h1v1h-1zM272 242h1v1h-1zM522 242h1v1h-1zM21 244h1v1h-1zM272 244h1v1h-1zM522 244h1v1h-1zM21 246h1v1h-1zM272 246h1v1h-1zM522 246h1v1h-1zM21 248h1v1h-1zM272 248h1v1h-1zM522 248h1v1h-1zM21 250h2v1h-2zM24 250h1v1h-1zM72 250h1v1h-1zM122 250h1v1h-1zM172 250h1v1h-1zM222 250h1v1h-1zM269 250h1v1h-1zM271 250h3v1h-3zM275 250h1v1h-1zM322 250h1v1h-1zM372 250h1v1h-1zM422 250h1v1h-1zM472 250h1v1h-1zM519 250h1v1h-1zM521 250h2v1h-2zM21 252h1v1h-1zM272 252h1v1h-1zM522 252h1v1h-1zM21 254h1v1h-1zM272 254h1v1h-1zM522 254h1v1h-1zM21 256h1v1h-1zM272 256h1v1h-1zM522 256h1v1h-1zM21 258h1v1h-1zM272 258h1v1h-1zM522 258h1v1h-1zM21 260h2v1h-2zM24 260h1v1h-1zM72 260h1v1h-1zM122 260h1v1h-1zM172 260h1v1h-1zM222 260h1v1h-1zM269 260h1v1h-1zM271 260h3v1h-3zM275 260h1v1h-1zM322 260h1v1h-1zM372 260h1v1h-1zM422 260h1v1h-1zM472 260h1v1h-1zM519 260h1v1h-1zM521 260h2v1h-2zM21 262h1v1h-1zM272 262h1v1h-1zM522 262h1v1h-1zM21 264h1v1h-1zM272 264h1v1h-1zM522 264h1v1h-1zM21 266h1v1h-1zM272 266h1v1h-1zM522 266h1v1h-1zM21 268h1v1h-1zM272 268h1v1h-1zM522 268h1v1h-1zM21 270h1v1h-1zM23 270h1v1h-1zM25 270h1v1h-1zM27 270h1v1h-1zM32 270h1v1h-1zM42 270h1v1h-1zM52 270h1v1h-1zM62 270h1v1h-1zM72 270h1v1h-1zM82 270h1v1h-1zM92 270h1v1h-1zM102 270h1v1h-1zM112 270h1v1h-1zM122 270h1v1h-1zM132 270h1v1h-1zM142 270h1v1h-1zM152 270h1v1h-1zM162 270h1v1h-1zM172 270h1v1h-1zM182 270h1v1h-1zM192 270h1v1h-1zM202 270h1v1h-1zM212 270h1v1h-1zM222 270h1v1h-1zM232 270h1v1h-1zM242 270h1v1h-1zM252 270h1v1h-1zM262 270h1v1h-1zM266 270h1v1h-1zM268 270h1v1h-1zM270 270h1v1h-1zM272 270h1v1h-1zM274 270h1v1h-1zM276 270h1v1h-1zM278 270h1v1h-1zM282 270h1v1h-1zM292 270h1v1h-1zM302 270h1v1h-1zM312 270h1v1h-1zM322 270h1v1h-1zM332 270h1v1h-1zM342 270h1v1h-1zM352 270h1v1h-1zM362 270h1v1h-1zM372 270h1v1h-1zM382 270h1v1h-1zM392 270h1v1h-1zM402 270h1v1h-1zM412 270h1v1h-1zM422 270h1v1h-1zM432 270h1v1h-1zM442 270h1v1h-1zM452 270h1v1h-1zM462 270h1v1h-1zM472 270h1v1h-1zM482 270h1v1h-1zM492 270h1v1h-1zM502 270h1v1h-1zM512 270h1v1h-1zM516 270h1v1h-1zM518 270h1v1h-1zM520 270h1v1h-1zM522 270h1v1h-1zM21 272h1v1h-1zM272 272h1v1h-1zM522 272h1v1h-1zM21 274h1v1h-1zM272 274h1v1h-1zM522 274h1v1h-1zM21 276h1v1h-1zM272 276h1v1h-1zM522 276h1v1h-1zM21 278h1v1h-1zM272 278h1v1h-1zM522 278h1v1h-1zM21 280h2v1h-2zM24 280h1v1h-1zM72 280h1v1h-1zM122 280h1v1h-1zM172 280h1v1h-1zM222 280h1v1h-1zM269 280h1v1h-1zM271 280h3v1h-3zM275 280h1v1h-1zM322 280h1v1h-1zM372 280h1v1h-1zM422 280h1v1h-1zM472 280h1v1h-1zM519 280h1v1h-1zM521 280h2v1h-2zM21 282h1v1h-1zM272 282h1v1h-1zM522 282h1v1h-1zM21 284h1v1h-1zM272 284h1v1h-1zM522 284h1v1h-1zM21 286h1v1h-1zM272 286h1v1h-1zM522 286h1v1h-1zM21 288h1v1h-1zM272 288h1v1h-1zM522 288h1v1h-1zM21 290h2v1h-2zM24 290h1v1h-1zM72 290h1v1h-1zM122 290h1v1h-1zM172 290h1v1h-1zM222 290h1v1h-1zM269 290h1v1h-1zM271 290h3v1h-3zM275 290h1v1h-1zM322 290h1v1h-1zM372 290h1v1h-1zM422 290h1v1h-1zM472 290h1v1h-1zM519 290h1v1h-1zM521 290h2v1h-2zM21 292h1v1h-1zM272 292h1v1h-1zM522 292h1v1h-1zM21 294h1v1h-1zM272 294h1v1h-1zM522 294h1v1h-1zM21 296h1v1h-1zM272 296h1v1h-1zM522 296h1v1h-1zM21 298h1v1h-1zM272 298h1v1h-1zM522 298h1v1h-1zM21 300h2v1h-2zM24 300h1v1h-1zM72 300h1v1h-1zM122 300h1v1h-1zM172 300h1v1h-1zM222 300h1v1h-1zM269 300h1v1h-1zM271 300h3v1h-3zM275 300h1v1h-1zM322 300h1v1h-1zM372 300h1v1h-1zM422 300h1v1h-1zM472 300h1v1h-1zM519 300h1v1h-1zM521 300h2v1h-2zM21 302h1v1h-1zM272 302h1v1h-1zM522 302h1v1h-1zM21 304h1v1h-1zM272 304h1v1h-1zM522 304h1v1h-1zM21 306h1v1h-1zM272 306h1v1h-1zM522 306h1v1h-1zM21 308h1v1h-1zM272 308h1v1h-1zM522 308h1v1h-1zM21 310h2v1h-2zM24 310h1v1h-1zM72 310h1v1h-1zM122 310h1v1h-1zM172 310h1v1h-1zM222 310h1v1h-1zM269 310h1v1h-1zM271 310h3v1h-3zM275 310h1v1h-1zM322 310h1v1h-1zM372 310h1v1h-1zM422 310h1v1h-1zM472 310h1v1h-1zM519 310h1v1h-1zM521 310h2v1h-2zM21 312h1v1h-1zM272 312h1v1h-1zM522 312h1v1h-1zM21 314h1v1h-1zM272 314h1v1h-1zM522 314h1v1h-1zM21 316h1v1h-1zM272 316h1v1h-1zM522 316h1v1h-1zM21 318h1v1h-1zM272 318h1v1h-1zM522 318h1v1h-1zM21 320h1v1h-1zM23 320h1v1h-1zM25 320h1v1h-1zM27 320h1v1h-1zM32 320h1v1h-1zM42 320h1v1h-1zM52 320h1v1h-1zM62 320h1v1h-1zM72 320h1v1h-1zM82 320h1v1h-1zM92 320h1v1h-1zM102 320h1v1h-1zM112 320h1v1h-1zM122 320h1v1h-1zM132 320h1v1h-1zM142 320h1v1h-1zM152 320h1v1h-1zM162 320h1v1h-1zM172 320h1v1h-1zM182 320h1v1h-1zM192 320h1v1h-1zM202 320h1v1h-1zM212 320h1v1h-1zM222 320h1v1h-1zM232 320h1v1h-1zM242 320h1v1h-1zM252 320h1v1h-1zM262 320h1v1h-1zM266 320h1v1h-1zM268 320h1v1h-1zM270 320h1v1h-1zM272 320h1v1h-1zM274 320h1v1h-1zM276 320h1v1h-1zM278 320h1v1h-1zM282 320h1v1h-1zM292 320h1v1h-1zM302 320h1v1h-1zM312 320h1v1h-1zM322 320h1v1h-1zM332 320h1v1h-1zM342 320h1v1h-1zM352 320h1v1h-1zM362 320h1v1h-1zM372 320h1v1h-1zM382 320h1v1h-1zM392 320h1v1h-1zM402 320h1v1h-1zM412 320h1v1h-1zM422 320h1v1h-1zM432 320h1v1h-1zM442 320h1v1h-1zM452 320h1v1h-1zM462 320h1v1h-1zM472 320h1v1h-1zM482 320h1v1h-1zM492 320h1v1h-1zM502 320h1v1h-1zM512 320h1v1h-1zM516 320h1v1h-1zM518 320h1v1h-1zM520 320h1v1h-1zM522 320h1v1h-1zM21 322h1v1h-1zM272 322h1v1h-1zM522 322h1v1h-1zM21 324h1v1h-1zM272 324h1v1h-1zM522 324h1v1h-1zM21 326h1v1h-1zM272 326h1v1h-1zM522 326h1v1h-1zM21 328h1v1h-1zM272 328h1v1h-1zM522 328h1v1h-1zM21 330h2v1h-2zM24 330h1v1h-1zM72 330h1v1h-1zM122 330h1v1h-1zM172 330h1v1h-1zM222 330h1v1h-1zM269 330h1v1h-1zM271 330h3v1h-3zM275 330h1v1h-1zM322 330h1v1h-1zM372 330h1v1h-1zM422 330h1v1h-1zM472 330h1v1h-1zM519 330h1v1h-1zM521 330h2v1h-2zM21 332h1v1h-1zM272 332h1v1h-1zM522 332h1v1h-1zM21 334h1v1h-1zM272 334h1v1h-1zM522 334h1v1h-1zM21 336h1v1h-1zM272 336h1v1h-1zM522 336h1v1h-1zM21 338h1v1h-1zM272 338h1v1h-1zM522 338h1v1h-1zM21 340h2v1h-2zM24 340h1v1h-1zM72 340h1v1h-1zM122 340h1v1h-1zM172 340h1v1h-1zM222 340h1v1h-1zM269 340h1v1h-1zM271 340h3v1h-3zM275 340h1v1h-1zM322 340h1v1h-1zM372 340h1v1h-1zM422 340h1v1h-1zM472 340h1v1h-1zM519 340h1v1h-1zM521 340h2v1h-2zM21 342h1v1h-1zM272 342h1v1h-1zM522 342h1v1h-1zM21 344h1v1h-1zM272 344h1v1h-1zM522 344h1v1h-1zM21 346h1v1h-1zM272 346h1v1h-1zM522 346h1v1h-1zM21 348h1v1h-1zM272 348h1v1h-1zM522 348h1v1h-1zM21 350h2v1h-2zM24 350h1v1h-1zM72 350h1v1h-1zM122 350h1v1h-1zM172 350h1v1h-1zM222 350h1v1h-1zM269 350h1v1h-1zM271 350h3v1h-3zM275 350h1v1h-1zM322 350h1v1h-1zM372 350h1v1h-1zM422 350h1v1h-1zM472 350h1v1h-1zM519 350h1v1h-1zM521 350h2v1h-2zM21 352h1v1h-1zM272 352h1v1h-1zM522 352h1v1h-1zM21 354h1v1h-1zM272 354h1v1h-1zM522 354h1v1h-1zM21 356h1v1h-1zM272 356h1v1h-1zM522 356h1v1h-1zM21 358h1v1h-1zM272 358h1v1h-1zM522 358h1v1h-1zM21 360h2v1h-2zM24 360h1v1h-1zM72 360h1v1h-1zM122 360h1v1h-1zM172 360h1v1h-1zM222 360h1v1h-1zM269 360h1v1h-1zM271 360h3v1h-3zM275 360h1v1h-1zM322 360h1v1h-1zM372 360h1v1h-1zM422 360h1v1h-1zM472 360h1v1h-1zM519 360h1v1h-1zM521 360h2v1h-2zM21 362h1v1h-1zM272 362h1v1h-1zM522 362h1v1h-1zM21 364h1v1h-1zM272 364h1v1h-1zM522 364h1v1h-1zM21 366h1v1h-1zM272 366h1v1h-1zM522 366h1v1h-1zM21 368h1v1h-1zM272 368h1v1h-1zM522 368h1v1h-1zM21 370h1v1h-1zM23 370h1v1h-1zM25 370h1v1h-1zM27 370h1v1h-1zM32 370h1v1h-1zM42 370h1v1h-1zM52 370h1v1h-1zM62 370h1v1h-1zM72 370h1v1h-1zM82 370h1v1h-1zM92 370h1v1h-1zM102 370h1v1h-1zM112 370h1v1h-1zM122 370h1v1h-1zM132 370h1v1h-1zM142 370h1v1h-1zM152 370h1v1h-1zM162 370h1v1h-1zM172 370h1v1h-1zM182 370h1v1h-1zM192 370h1v1h-1zM202 370h1v1h-1zM212 370h1v1h-1zM222 370h1v1h-1zM232 370h1v1h-1zM242 370h1v1h-1zM252 370h1v1h-1zM262 370h1v1h-1zM266 370h1v1h-1zM268 370h1v1h-1zM270 370h1v1h-1zM272 370h1v1h-1zM274 370h1v1h-1zM276 370h1v1h-1zM278 370h1v1h-1zM282 370h1v1h-1zM292 370h1v1h-1zM302 370h1v1h-1zM312 370h1v1h-1zM322 370h1v1h-1zM332 370h1v1h-1zM342 370h1v1h-1zM352 370h1v1h-1zM362 370h1v1h-1zM372 370h1v1h-1zM382 370h1v1h-1zM392 370h1v1h-1zM402 370h1v1h-1zM412 370h1v1h-1zM422 370h1v1h-1zM432 370h1v1h-1zM442 370h1v1h-1zM452 370h1v1h-1zM462 370h1v1h-1zM472 370h1v1h-1zM482 370h1v1h-1zM492 370h1v1h-1zM502 370h1v1h-1zM512 370h1v1h-1zM516 370h1v1h-1zM518 370h1v1h-1zM520 370h1v1h-1zM522 370h1v1h-1zM21 372h1v1h-1zM272 372h1v1h-1zM522 372h1v1h-1zM21 374h1v1h-1zM272 374h1v1h-1zM522 374h1v1h-1zM21 376h1v1h-1zM272 376h1v1h-1zM522 376h1v1h-1zM21 378h1v1h-1zM272 378h1v1h-1zM522 378h1v1h-1zM21 380h2v1h-2zM24 380h1v1h-1zM72 380h1v1h-1zM122 380h1v1h-1zM172 380h1v1h-1zM222 380h1v1h-1zM269 380h1v1h-1zM271 380h3v1h-3zM275 380h1v1h-1zM322 380h1v1h-1zM372 380h1v1h-1zM422 380h1v1h-1zM472 380h1v1h-1zM519 380h1v1h-1zM521 380h2v1h-2zM21 382h1v1h-1zM272 382h1v1h-1zM522 382h1v1h-1zM21 384h1v1h-1zM272 384h1v1h-1zM522 384h1v1h-1zM21 386h1v1h-1zM272 386h1v1h-1zM522 386h1v1h-1zM21 388h1v1h-1zM272 388h1v1h-1zM522 388h1v1h-1zM21 390h2v1h-2zM24 390h1v1h-1zM72 390h1v1h-1zM122 390h1v1h-1zM172 390h1v1h-1zM222 390h1v1h-1zM269 390h1v1h-1zM271 390h3v1h-3zM275 390h1v1h-1zM322 390h1v1h-1zM372 390h1v1h-1zM422 390h1v1h-1zM472 390h1v1h-1zM519 390h1v1h-1zM521 390h2v1h-2zM21 392h1v1h-1zM272 392h1v1h-1zM522 392h1v1h-1zM21 394h1v1h-1zM272 394h1v1h-1zM522 394h1v1h-1zM21 396h1v1h-1zM272 396h1v1h-1zM522 396h1v1h-1zM21 398h1v1h-1zM272 398h1v1h-1zM522 398h1v1h-1zM21 400h2v1h-2zM24 400h1v1h-1zM72 400h1v1h-1zM122 400h1v1h-1zM172 400h1v1h-1zM222 400h1v1h-1zM269 400h1v1h-1zM271 400h3v1h-3zM275 400h1v1h-1zM322 400h1v1h-1zM372 400h1v1h-1zM422 400h1v1h-1zM472 400h1v1h-1zM519 400h1v1h-1zM521 400h2v1h-2zM21 402h1v1h-1zM272 402h1v1h-1zM522 402h1v1h-1zM21 404h1v1h-1zM272 404h1v1h-1zM522 404h1v1h-1zM21 406h1v1h-1zM272 406h1v1h-1zM522 406h1v1h-1zM21 408h1v1h-1zM272 408h1v1h-1zM522 408h1v1h-1zM21 410h2v1h-2zM24 410h1v1h-1zM72 410h1v1h-1zM122 410h1v1h-1zM172 410h1v1h-1zM222 410h1v1h-1zM269 410h1v1h-1zM271 410h3v1h-3zM275 410h1v1h-1zM322 410h1v1h-1zM372 410h1v1h-1zM422 410h1v1h-1zM472 410h1v1h-1zM519 410h1v1h-1zM521 410h2v1h-2zM21 412h1v1h-1zM272 412h1v1h-1zM522 412h1v1h-1zM21 414h1v1h-1zM272 414h1v1h-1zM522 414h1v1h-1zM72 415h1v1h-1zM122 415h1v1h-1zM172 415h1v1h-1zM222 415h1v1h-1zM322 415h1v1h-1zM372 415h1v1h-1zM422 415h1v1h-1zM472 415h1v1h-1zM21 416h1v1h-1zM272 416h1v1h-1zM522 416h1v1h-1zM72 417h1v1h-1zM122 417h1v1h-1zM172 417h1v1h-1zM222 417h1v1h-1zM322 417h1v1h-1zM372 417h1v1h-1zM422 417h1v1h-1zM472 417h1v1h-1zM21 418h1v1h-1zM32 418h1v1h-1zM42 418h1v1h-1zM52 418h1v1h-1zM62 418h1v1h-1zM82 418h1v1h-1zM92 418h1v1h-1zM102 418h1v1h-1zM112 418h1v1h-1zM132 418h1v1h-1zM142 418h1v1h-1zM152 418h1v1h-1zM162 418h1v1h-1zM182 418h1v1h-1zM192 418h1v1h-1zM202 418h1v1h-1zM212 418h1v1h-1zM232 418h1v1h-1zM242 418h1v1h-1zM252 418h1v1h-1zM262 418h1v1h-1zM272 418h1v1h-1zM282 418h1v1h-1zM292 418h1v1h-1zM302 418h1v1h-1zM312 418h1v1h-1zM332 418h1v1h-1zM342 418h1v1h-1zM352 418h1v1h-1zM362 418h1v1h-1zM382 418h1v1h-1zM392 418h1v1h-1zM402 418h1v1h-1zM412 418h1v1h-1zM432 418h1v1h-1zM442 418h1v1h-1zM452 418h1v1h-1zM462 418h1v1h-1zM482 418h1v1h-1zM492 418h1v1h-1zM502 418h1v1h-1zM512 418h1v1h-1zM522 418h1v1h-1zM72 419h1v1h-1zM122 419h1v1h-1zM172 419h1v1h-1zM222 419h1v1h-1zM322 419h1v1h-1zM372 419h1v1h-1zM422 419h1v1h-1zM472 419h1v1h-1zM21 420h1v1h-1zM32 420h1v1h-1zM42 420h1v1h-1zM52 420h1v1h-1zM62 420h1v1h-1zM82 420h1v1h-1zM92 420h1v1h-1zM102 420h1v1h-1zM112 420h1v1h-1zM132 420h1v1h-1zM142 420h1v1h-1zM152 420h1v1h-1zM162 420h1v1h-1zM182 420h1v1h-1zM192 420h1v1h-1zM202 420h1v1h-1zM212 420h1v1h-1zM232 420h1v1h-1zM242 420h1v1h-1zM252 420h1v1h-1zM262 420h1v1h-1zM272 420h1v1h-1zM282 420h1v1h-1zM292 420h1v1h-1zM302 420h1v1h-1zM312 420h1v1h-1zM332 420h1v1h-1zM342 420h1v1h-1zM352 420h1v1h-1zM362 420h1v1h-1zM382 420h1v1h-1zM392 420h1v1h-1zM402 420h1v1h-1zM412 420h1v1h-1zM432 420h1v1h-1zM442 420h1v1h-1zM452 420h1v1h-1zM462 420h1v1h-1zM482 420h1v1h-1zM492 420h1v1h-1zM502 420h1v1h-1zM512 420h1v1h-1zM522 420h1v1h-1zM21 421h2v1h-2zM24 421h1v1h-1zM26 421h1v1h-1zM28 421h1v1h-1zM30 421h1v1h-1zM32 421h1v1h-1zM34 421h1v1h-1zM36 421h1v1h-1zM38 421h1v1h-1zM40 421h1v1h-1zM42 421h1v1h-1zM44 421h1v1h-1zM46 421h1v1h-1zM48 421h1v1h-1zM50 421h1v1h-1zM52 421h1v1h-1zM54 421h1v1h-1zM56 421h1v1h-1zM58 421h1v1h-1zM60 421h1v1h-1zM62 421h1v1h-1zM64 421h1v1h-1zM66 421h1v1h-1zM68 421h1v1h-1zM70 421h1v1h-1zM72 421h1v1h-1zM74 421h1v1h-1zM76 421h1v1h-1zM78 421h1v1h-1zM80 421h1v1h-1zM82 421h1v1h-1zM84 421h1v1h-1zM86 421h1v1h-1zM88 421h1v1h-1zM90 421h1v1h-1zM92 421h1v1h-1zM94 421h1v1h-1zM96 421h1v1h-1zM98 421h1v1h-1zM100 421h1v1h-1zM102 421h1v1h-1zM104 421h1v1h-1zM106 421h1v1h-1zM108 421h1v1h-1zM110 421h1v1h-1zM112 421h1v1h-1zM114 421h1v1h-1zM116 421h1v1h-1zM118 421h1v1h-1zM120 421h1v1h-1zM122 421h1v1h-1zM124 421h1v1h-1zM126 421h1v1h-1zM128 421h1v1h-1zM130 421h1v1h-1zM132 421h1v1h-1zM134 421h1v1h-1zM136 421h1v1h-1zM138 421h1v1h-1zM140 421h1v1h-1zM142 421h1v1h-1zM144 421h1v1h-1zM146 421h1v1h-1zM148 421h1v1h-1zM150 421h1v1h-1zM152 421h1v1h-1zM154 421h1v1h-1zM156 421h1v1h-1zM158 421h1v1h-1zM160 421h1v1h-1zM162 421h1v1h-1zM164 421h1v1h-1zM166 421h1v1h-1zM168 421h1v1h-1zM170 421h1v1h-1zM172 421h1v1h-1zM174 421h1v1h-1zM176 421h1v1h-1zM178 421h1v1h-1zM180 421h1v1h-1zM182 421h1v1h-1zM184 421h1v1h-1zM186 421h1v1h-1zM188 421h1v1h-1zM190 421h1v1h-1zM192 421h1v1h-1zM194 421h1v1h-1zM196 421h1v1h-1zM198 421h1v1h-1zM200 421h1v1h-1zM202 421h1v1h-1zM204 421h1v1h-1zM206 421h1v1h-1zM208 421h1v1h-1zM210 421h1v1h-1zM212 421h1v1h-1zM214 421h1v1h-1zM216 421h1v1h-1zM218 421h1v1h-1zM220 421h1v1h-1zM222 421h1v1h-1zM224 421h1v1h-1zM226 421h1v1h-1zM228 421h1v1h-1zM230 421h1v1h-1zM232 421h1v1h-1zM234 421h1v1h-1zM236 421h1v1h-1zM238 421h1v1h-1zM240 421h1v1h-1zM242 421h1v1h-1zM244 421h1v1h-1zM246 421h1v1h-1zM248 421h1v1h-1zM250 421h1v1h-1zM252 421h1v1h-1zM254 421h1v1h-1zM256 421h1v1h-1zM258 421h1v1h-1zM260 421h1v1h-1zM262 421h1v1h-1zM264 421h1v1h-1zM266 421h1v1h-1zM268 421h1v1h-1zM270 421h1v1h-1zM272 421h1v1h-1zM274 421h1v1h-1zM276 421h1v1h-1zM278 421h1v1h-1zM280 421h1v1h-1zM282 421h1v1h-1zM284 421h1v1h-1zM286 421h1v1h-1zM288 421h1v1h-1zM290 421h1v1h-1zM292 421h1v1h-1zM294 421h1v1h-1zM296 421h1v1h-1zM298 421h1v1h-1zM300 421h1v1h-1zM302 421h1v1h-1zM304 421h1v1h-1zM306 421h1v1h-1zM308 421h1v1h-1zM310 421h1v1h-1zM312 421h1v1h-1zM314 421h1v1h-1zM316 421h1v1h-1zM318 421h1v1h-1zM320 421h1v1h-1zM322 421h1v1h-1zM324 421h1v1h-1zM326 421h1v1h-1zM328 421h1v1h-1zM330 421h1v1h-1zM332 421h1v1h-1zM334 421h1v1h-1zM336 421h1v1h-1zM338 421h1v1h-1zM340 421h1v1h-1zM342 421h1v1h-1zM344 421h1v1h-1zM346 421h1v1h-1zM348 421h1v1h-1zM350 421h1v1h-1zM352 421h1v1h-1zM354 421h1v1h-1zM356 421h1v1h-1zM358 421h1v1h-1zM360 421h1v1h-1zM362 421h1v1h-1zM364 421h1v1h-1zM366 421h1v1h-1zM368 421h1v1h-1zM370 421h1v1h-1zM372 421h1v1h-1zM374 421h1v1h-1zM376 421h1v1h-1zM378 421h1v1h-1zM380 421h1v1h-1zM382 421h1v1h-1zM384 421h1v1h-1zM386 421h1v1h-1zM388 421h1v1h-1zM390 421h1v1h-1zM392 421h1v1h-1zM394 421h1v1h-1zM396 421h1v1h-1zM398 421h1v1h-1zM400 421h1v1h-1zM402 421h1v1h-1zM404 421h1v1h-1zM406 421h1v1h-1zM408 421h1v1h-1zM410 421h1v1h-1zM412 421h1v1h-1zM414 421h1v1h-1zM416 421h1v1h-1zM418 421h1v1h-1zM420 421h1v1h-1zM422 421h1v1h-1zM424 421h1v1h-1zM426 421h1v1h-1zM428 421h1v1h-1zM430 421h1v1h-1zM432 421h1v1h-1zM434 421h1v1h-1zM436 421h1v1h-1zM438 421h1v1h-1zM440 421h1v1h-1zM442 421h1v1h-1zM444 421h1v1h-1zM446 421h1v1h-1zM448 421h1v1h-1zM450 421h1v1h-1zM452 421h1v1h-1zM454 421h1v1h-1zM456 421h1v1h-1zM458 421h1v1h-1zM460 421h1v1h-1zM462 421h1v1h-1zM464 421h1v1h-1zM466 421h1v1h-1zM468 421h1v1h-1zM470 421h1v1h-1zM472 421h1v1h-1zM474 421h1v1h-1zM476 421h1v1h-1zM478 421h1v1h-1zM480 421h1v1h-1zM482 421h1v1h-1zM484 421h1v1h-1zM486 421h1v1h-1zM488 421h1v1h-1zM490 421h1v1h-1zM492 421h1v1h-1zM494 421h1v1h-1zM496 421h1v1h-1zM498 421h1v1h-1zM500 421h1v1h-1zM502 421h1v1h-1zM504 421h1v1h-1zM506 421h1v1h-1zM508 421h1v1h-1zM510 421h1v1h-1zM512 421h1v1h-1zM514 421h1v1h-1zM516 421h1v1h-1zM518 421h1v1h-1zM520 421h1v1h-1zM522 421h1v1h-1z"/><path fill="#c8c8ff" d="M22 192h1v7h-1zM23 192h1v7h-1zM24 191h1v8h-1zM25 193h1v6h-1zM26 192h1v6h-1zM27 192h1v7h-1zM28 193h1v7h-1zM29 192h1v7h-1zM30 193h1v5h-1zM31 191h1v8h-1zM32 192h1v6h-1zM33 193h1v6h-1zM34 192h1v6h-1zM35 193h1v7h-1zM36 192h1v7h-1zM37 192h1v6h-1zM38 192h1v6h-1zM39 192h1v7h-1zM40 193h1v6h-1zM41 193h1v8h-1zM42 193h1v5h-1zM43 192h1v6h-1zM44 193h1v5h-1zM45 192h1v9h-1zM46 193h1v6h-1zM47 193h1v5h-1zM48 192h1v7h-1zM49 192h1v7h-1zM50 192h1v7h-1zM51 192h1v6h-1zM52 193h1v6h-1zM53 193h1v6h-1zM54 192h1v7h-1zM55 193h1v6h-1zM56 192h1v7h-1zM57 193h1v6h-1zM58 191h1v7h-1zM59 192h1v7h-1zM60 193h1v6h-1zM61 193h1v6h-1zM62 193h1v6h-1zM63 192h1v7h-1zM64 192h1v6h-1zM65 193h1v6h-1zM66 193h1v6h-1zM67 202h1v7h-1zM68 203h1v7h-1zM69 203h1v6h-1zM70 204h1v6h-1zM71 204h1v6h-1zM72 204h1v7h-1zM73 204h1v7h-1zM74 203h1v6h-1zM75 204h1v6h-1zM76 203h1v6h-1zM77 204h1v6h-1zM78 204h1v6h-1zM79 204h1v7h-1zM80 202h1v8h-1zM81 203h1v7h-1zM82 204h1v6h-1zM83 204h1v5h-1zM84 203h1v6h-1zM85 202h1v7h-1zM86 203h1v7h-1zM87 203h1v8h-1zM88 204h1v6h-1zM89 204h1v6h-1zM90 203h1v7h-1zM91 203h1v7h-1zM92 204h1v6h-1zM93 203h1v7h-1zM94 203h1v9h-1zM95 203h1v7h-1zM96 203h1v7h-1zM97 204h1v7h-1zM98 203h1v7h-1zM99 203h1v7h-1zM100 204h1v6h-1zM101 203h1v8h-1zM102 204h1v6h-1zM103 202h1v9h-1zM104 204h1v6h-1zM105 203h1v7h-1zM106 203h1v8h-1zM107 204h1v5h-1zM108 203h1v7h-1zM109 203h1v7h-1zM110 203h1v6h-1zM111 204h1v7h-1zM112 203h1v6h-1zM113 203h1v6h-1zM114 203h1v7h-1zM115 203h1v6h-1zM116 202h1v9h-1zM117 203h1v7h-1zM118 204h1v5h-1zM119 203h1v6h-1zM120 203h1v7h-1zM121 204h1v6h-1zM122 204h1v7h-1zM123 204h1v6h-1zM124 203h1v7h-1zM125 204h1v5h-1zM126 203h1v7h-1zM127 204h1v5h-1zM128 203h1v7h-1zM129 203h1v6h-1zM130 203h1v8h-1zM131 204h1v7h-1zM132 204h1v5h-1zM133 204h1v5h-1zM134 203h1v8h-1zM135 204h1v6h-1zM136 203h1v6h-1zM137 203h1v8h-1zM138 204h1v5h-1zM139 203h1v7h-1zM140 203h1v7h-1zM141 203h1v6h-1zM142 192h1v6h-1zM143 192h1v7h-1zM144 192h1v7h-1zM145 192h1v7h-1zM146 192h1v7h-1zM147 192h1v7h-1zM148 192h1v7h-1zM149 192h1v6h-1zM150 193h1v5h-1zM151 191h1v8h-1zM152 192h1v8h-1zM153 193h1v5h-1zM154 191h1v8h-1zM155 192h1v6h-1zM156 192h1v7h-1zM157 192h1v7h-1zM158 192h1v7h-1zM159 193h1v6h-1zM160 191h1v7h-1zM161 192h1v7h-1zM162 193h1v6h-1zM163 192h1v8h-1zM164 193h1v5h-1zM165 192h1v6h-1zM166 193h1v6h-1zM167 192h1v7h-1zM168 192h1v6h-1zM169 193h1v5h-1zM170 192h1v7h-1zM171 192h1v7h-1zM172 192h1v7h-1zM173 192h1v8h-1zM174 192h1v6h-1zM175 192h1v7h-1zM176 193h1v7h-1zM177 192h1v6h-1zM178 193h1v6h-1zM179 192h1v6h-1zM180 193h1v5h-1zM181 192h1v7h-1zM182 193h1v6h-1zM183 193h1v5h-1zM184 192h1v8h-1zM185 192h1v7h-1zM186 193h1v6h-1zM187 192h1v6h-1zM188 193h1v6h-1zM189 192h1v7h-1zM190 193h1v5h-1zM191 193h1v7h-1zM192 192h1v7h-1zM193 193h1v6h-1zM194 193h1v6h-1zM195 191h1v8h-1zM196 192h1v7h-1zM197 193h1v6h-1zM198 192h1v7h-1zM199 192h1v7h-1zM200 192h1v7h-1zM201 192h1v6h-1zM202 192h1v7h-1zM203 193h1v7h-1zM204 192h1v6h-1zM205 192h1v6h-1zM206 193h1v6h-1zM207 193h1v5h-1zM208 193h1v6h-1zM209 192h1v7h-1zM210 193h1v6h-1zM211 191h1v8h-1zM212 192h1v6h-1zM213 192h1v10h-1zM214 193h1v6h-1zM215 192h1v6h-1zM216 193h1v6h-1zM217 202h1v8h-1zM218 203h1v8h-1zM219 204h1v6h-1zM220 204h1v7h-1zM221 203h1v7h-1zM222 202h1v8h-1zM223 203h1v6h-1zM224 204h1v6h-1zM225 204h1v5h-1zM226 202h1v8h-1zM227 202h1v8h-1zM228 204h1v7h-1zM229 203h1v8h-1zM230 203h1v7h-1zM231 203h1v6h-1zM232 204h1v6h-1zM233 203h1v9h-1zM234 204h1v6h-1zM235 203h1v8h-1zM236 203h1v7h-1zM237 203h1v6h-1zM238 203h1v7h-1zM239 202h1v10h-1zM240 204h1v6h-1zM241 203h1v10h-1zM242 204h1v6h-1zM243 203h1v7h-1zM244 204h1v5h-1zM245 203h1v7h-1zM246 203h1v7h-1zM247 204h1v6h-1zM248 204h1v6h-1zM249 204h1v5h-1zM250 203h1v7h-1zM251 203h1v6h-1zM252 203h1v6h-1zM253 203h1v6h-1zM254 204h1v6h-1zM255 204h1v6h-1zM256 204h1v6h-1zM257 203h1v6h-1zM258 204h1v7h-1zM259 203h1v7h-1zM260 203h1v8h-1zM261 202h1v9h-1zM262 203h1v8h-1zM263 204h1v8h-1zM264 203h1v7h-1zM265 203h1v7h-1zM266 203h1v6h-1zM267 203h1v7h-1zM268 203h1v7h-1zM269 204h1v6h-1zM270 203h1v8h-1zM271 203h1v7h-1zM272 204h1v6h-1zM273 203h1v8h-1zM274 203h1v8h-1zM275 203h1v7h-1zM276 203h1v7h-1zM277 203h1v6h-1zM278 203h1v7h-1zM279 203h1v9h-1zM280 203h1v7h-1zM281 203h1v8h-1zM282 204h1v5h-1zM283 203h1v6h-1zM284 203h1v6h-1zM285 202h1v8h-1zM286 203h1v7h-1zM287 203h1v7h-1zM288 203h1v7h-1zM289 203h1v7h-1zM290 204h1v7h-1zM291 202h1v8h-1zM292 192h1v6h-1zM293 193h1v6h-1zM294 191h1v8h-1zM295 192h1v7h-1zM296 191h1v8h-1zM297 192h1v7h-1zM298 191h1v7h-1zM299 193h1v5h-1zM300 192h1v7h-1zM301 192h1v6h-1zM302 192h1v8h-1zM303 193h1v5h-1zM304 193h1v5h-1zM305 193h1v6h-1zM306 193h1v6h-1zM307 192h1v7h-1zM308 193h1v5h-1zM309 192h1v7h-1zM310 192h1v6h-1zM311 192h1v6h-1zM312 192h1v9h-1zM313 192h1v6h-1zM314 192h1v6h-1zM315 192h1v7h-1zM316 192h1v7h-1zM317 192h1v7h-1zM318 193h1v6h-1zM319 192h1v6h-1zM320 193h1v6h-1zM321 192h1v8h-1zM322 192h1v6h-1zM323 193h1v6h-1zM324 192h1v7h-1zM325 191h1v7h-1zM326 193h1v6h-1zM327 193h1v6h-1zM328 193h1v6h-1zM329 192h1v6h-1zM330 193h1v6h-1zM331 193h1v6h-1zM332 193h1v6h-1zM333 192h1v7h-1zM334 192h1v6h-1zM335 192h1v7h-1zM336 192h1v6h-1zM337 192h1v7h-1zM338 193h1v6h-1zM339 192h1v6h-1zM340 192h1v8h-1zM341 192h1v8h-1zM342 192h1v7h-1zM343 192h1v8h-1zM344 193h1v5h-1zM345 193h1v7h-1zM346 192h1v6h-1zM347 193h1v5h-1zM348 193h1v5h-1zM349 193h1v6h-1zM350 192h1v7h-1zM351 192h1v7h-1zM352 193h1v6h-1zM353 193h1v6h-1zM354 192h1v8h-1zM355 192h1v7h-1zM356 191h1v8h-1zM357 192h1v7h-1zM358 192h1v8h-1zM359 192h1v6h-1zM360 192h1v6h-1zM361 193h1v5h-1zM362 192h1v7h-1zM363 192h1v6h-1zM364 192h1v7h-1zM365 192h1v7h-1zM366 193h1v6h-1zM367 204h1v8h-1zM368 203h1v7h-1zM369 204h1v7h-1zM370 203h1v7h-1zM371 203h1v7h-1zM372 203h1v7h-1zM373 202h1v7h-1zM374 204h1v5h-1zM375 204h1v5h-1zM376 203h1v7h-1zM377 203h1v8h-1zM378 204h1v6h-1zM379 204h1v5h-1zM380 203h1v7h-1zM381 203h1v6h-1zM382 203h1v8h-1zM383 203h1v9h-1zM384 203h1v6h-1zM385 203h1v7h-1zM386 203h1v7h-1zM387 204h1v6h-1zM388 203h1v7h-1zM389 203h1v7h-1zM390 203h1v7h-1zM391 203h1v7h-1zM392 204h1v5h-1zM393 203h1v7h-1zM394 204h1v6h-1zM395 204h1v5h-1zM396 204h1v6h-1zM397 203h1v6h-1zM398 204h1v6h-1zM399 203h1v8h-1zM400 202h1v10h-1zM401 203h1v7h-1zM402 204h1v6h-1zM403 204h1v5h-1zM404 203h1v6h-1zM405 203h1v6h-1zM406 203h1v9h-1zM407 203h1v6h-1zM408 203h1v8h-1zM409 203h1v7h-1zM410 203h1v7h-1zM411 203h1v7h-1zM412 203h1v6h-1zM413 203h1v8h-1zM414 204h1v6h-1zM415 203h1v7h-1zM416 203h1v6h-1zM417 204h1v6h-1zM418 204h1v5h-1zM419 203h1v7h-1zM420 204h1v6h-1zM421 204h1v6h-1zM422 204h1v6h-1zM423 203h1v7h-1zM424 204h1v6h-1zM425 202h1v8h-1zM426 203h1v6h-1zM427 204h1v6h-1zM428 203h1v7h-1zM429 203h1v7h-1zM430 203h1v9h-1zM431 203h1v6h-1zM432 202h1v7h-1zM433 203h1v7h-1zM434 203h1v6h-1zM435 203h1v7h-1zM436 204h1v6h-1zM437 203h1v7h-1zM438 204h1v6h-1zM439 203h1v7h-1zM440 203h1v7h-1zM441 203h1v7h-1zM442 193h1v7h-1zM443 192h1v6h-1zM444 191h1v8h-1zM445 191h1v7h-1zM446 192h1v7h-1zM447 193h1v6h-1zM448 193h1v6h-1zM449 192h1v7h-1zM450 192h1v7h-1zM451 193h1v6h-1zM452 193h1v5h-1zM453 192h1v6h-1zM454 192h1v7h-1zM455 191h1v7h-1zM456 192h1v7h-1zM457 192h1v6h-1zM458 193h1v5h-1zM459 193h1v6h-1zM460 191h1v9h-1zM461 193h1v6h-1zM462 192h1v6h-1zM463 192h1v7h-1zM464 192h1v7h-1zM465 193h1v7h-1zM466 192h1v6h-1zM467 193h1v7h-1zM468 192h1v7h-1zM469 191h1v8h-1zM470 192h1v7h-1zM471 192h1v6h-1zM472 192h1v7h-1zM473 191h1v9h-1zM474 193h1v6h-1zM475 193h1v6h-1zM476 193h1v6h-1zM477 193h1v6h-1zM478 193h1v5h-1zM479 192h1v7h-1zM480 192h1v7h-1zM481 192h1v7h-1zM482 193h1v5h-1zM483 192h1v8h-1zM484 192h1v7h-1zM485 193h1v6h-1zM486 193h1v6h-1zM487 193h1v5h-1zM488 192h1v7h-1zM489 193h1v6h-1zM490 192h1v7h-1zM491 193h1v6h-1zM492 193h1v5h-1zM493 193h1v8h-1zM494 192h1v7h-1zM495 191h1v8h-1zM496 191h1v8h-1zM497 192h1v8h-1zM498 193h1v6h-1zM499 193h1v7h-1zM500 192h1v8h-1zM501 193h1v5h-1zM502 192h1v6h-1zM503 192h1v8h-1zM504 191h1v8h-1zM505 192h1v7h-1zM506 193h1v6h-1zM507 193h1v5h-1zM508 192h1v6h-1zM509 193h1v6h-1zM510 192h1v7h-1zM511 193h1v5h-1zM512 192h1v6h-1zM513 192h1v6h-1zM514 192h1v7h-1zM515 192h1v6h-1zM516 192h1v6h-1zM517 204h1v6h-1zM518 203h1v7h-1zM519 204h1v5h-1zM520 202h1v8h-1zM521 204h1v6h-1zM67 192h1v19h-1zM142 188h1v22h-1zM217 192h1v19h-1zM292 186h1v24h-1zM367 192h1v19h-1zM442 188h1v22h-1zM517 192h1v19h-1z"/><path fill="#9292ff" d="M22 193h1v4h-1zM23 193h1v5h-1zM24 193h1v5h-1zM25 193h1v4h-1zM26 193h1v4h-1zM27 193h1v4h-1zM28 193h1v5h-1zM29 194h1v4h-1zM30 193h1v5h-1zM31 194h1v4h-1zM32 194h1v4h-1zM33 193h1v5h-1zM34 193h1v5h-1zM35 194h1v3h-1zM36 193h1v5h-1zM37 194h1v4h-1zM38 193h1v5h-1zM39 193h1v5h-1zM40 193h1v5h-1zM41 194h1v3h-1zM42 193h1v4h-1zM43 193h1v5h-1zM44 193h1v5h-1zM45 193h1v5h-1zM46 194h1v4h-1zM47 194h1v3h-1zM48 193h1v5h-1zM49 193h1v5h-1zM50 193h1v5h-1zM51 193h1v5h-1zM52 193h1v5h-1zM53 193h1v4h-1zM54 194h1v4h-1zM55 193h1v5h-1zM56 193h1v4h-1zM57 194h1v4h-1zM58 193h1v5h-1zM59 193h1v4h-1zM60 193h1v5h-1zM61 194h1v3h-1zM62 193h1v4h-1zM63 193h1v4h-1zM64 194h1v3h-1zM65 193h1v4h-1zM66 194h1v3h-1zM67 204h1v4h-1zM68 204h1v4h-1zM69 204h1v5h-1zM70 204h1v5h-1zM71 204h1v5h-1zM72 204h1v5h-1zM73 204h1v5h-1zM74 205h1v4h-1zM75 205h1v3h-1zM76 205h1v3h-1zM77 204h1v4h-1zM78 204h1v5h-1zM79 205h1v4h-1zM80 204h1v4h-1zM81 204h1v5h-1zM82 205h1v4h-1zM83 204h1v5h-1zM84 205h1v4h-1zM85 205h1v4h-1zM86 204h1v4h-1zM87 204h1v5h-1zM88 204h1v4h-1zM89 204h1v4h-1zM90 204h1v5h-1zM91 204h1v4h-1zM92 204h1v5h-1zM93 204h1v5h-1zM94 204h1v5h-1zM95 205h1v3h-1zM96 205h1v4h-1zM97 204h1v5h-1zM98 204h1v5h-1zM99 205h1v4h-1zM100 204h1v5h-1zM101 204h1v5h-1zM102 204h1v4h-1zM103 204h1v5h-1zM104 205h1v4h-1zM105 204h1v4h-1zM106 204h1v5h-1zM107 204h1v5h-1zM108 204h1v5h-1zM109 205h1v4h-1zM110 205h1v4h-1zM111 204h1v5h-1zM112 204h1v5h-1zM113 205h1v3h-1zM114 205h1v4h-1zM115 205h1v3h-1zM116 204h1v5h-1zM117 205h1v3h-1zM118 204h1v4h-1zM119 204h1v5h-1zM120 204h1v5h-1zM121 205h1v3h-1zM122 204h1v5h-1zM123 205h1v3h-1zM124 204h1v5h-1zM125 204h1v4h-1zM126 205h1v4h-1zM127 204h1v5h-1zM128 205h1v3h-1zM129 204h1v4h-1zM130 205h1v4h-1zM131 205h1v4h-1zM132 204h1v5h-1zM133 205h1v4h-1zM134 205h1v4h-1zM135 204h1v5h-1zM136 204h1v4h-1zM137 205h1v4h-1zM138 204h1v4h-1zM139 204h1v4h-1zM140 205h1v4h-1zM141 205h1v4h-1zM142 193h1v5h-1zM143 194h1v3h-1zM144 193h1v5h-1zM145 193h1v4h-1zM146 193h1v4h-1zM147 194h1v4h-1zM148 193h1v5h-1zM149 193h1v5h-1zM150 194h1v4h-1zM151 194h1v3h-1zM152 193h1v4h-1zM153 194h1v3h-1zM154 193h1v5h-1zM155 193h1v5h-1zM156 193h1v5h-1zM157 193h1v4h-1zM158 193h1v4h-1zM159 193h1v5h-1zM160 193h1v5h-1zM161 194h1v4h-1zM162 193h1v5h-1zM163 193h1v4h-1zM164 193h1v5h-1zM165 193h1v4h-1zM166 194h1v3h-1zM167 194h1v3h-1zM168 193h1v5h-1zM169 194h1v3h-1zM170 193h1v4h-1zM171 193h1v5h-1zM172 193h1v4h-1zM173 193h1v5h-1zM174 193h1v4h-1zM175 194h1v3h-1zM176 194h1v4h-1zM177 193h1v5h-1zM178 193h1v5h-1zM179 193h1v5h-1zM180 193h1v5h-1zM181 194h1v3h-1zM182 194h1v4h-1zM183 194h1v3h-1zM184 194h1v4h-1zM185 193h1v5h-1zM186 193h1v5h-1zM187 193h1v5h-1zM188 193h1v5h-1zM189 193h1v5h-1zM190 194h1v4h-1zM191 194h1v3h-1zM192 193h1v5h-1zM193 194h1v4h-1zM194 193h1v5h-1zM195 193h1v5h-1zM196 193h1v4h-1zM197 193h1v4h-1zM198 194h1v4h-1zM199 193h1v4h-1zM200 193h1v4h-1zM201 193h1v4h-1zM202 193h1v4h-1zM203 194h1v4h-1zM204 194h1v3h-1zM205 194h1v4h-1zM206 193h1v5h-1zM207 193h1v5h-1zM208 194h1v4h-1zM209 193h1v5h-1zM210 193h1v5h-1zM211 194h1v4h-1zM212 193h1v5h-1zM213 193h1v5h-1zM214 194h1v3h-1zM215 194h1v3h-1zM216 193h1v5h-1zM217 204h1v5h-1zM218 205h1v4h-1zM219 204h1v5h-1zM220 204h1v4h-1zM221 205h1v4h-1zM222 205h1v3h-1zM223 204h1v5h-1zM224 204h1v5h-1zM225 204h1v5h-1zM226 204h1v5h-1zM227 205h1v3h-1zM228 204h1v5h-1zM229 204h1v5h-1zM230 204h1v5h-1zM231 204h1v5h-1zM232 205h1v4h-1zM233 204h1v5h-1zM234 205h1v3h-1zM235 205h1v4h-1zM236 204h1v5h-1zM237 204h1v5h-1zM238 205h1v4h-1zM239 205h1v4h-1zM240 205h1v4h-1zM241 205h1v3h-1zM242 205h1v4h-1zM243 205h1v3h-1zM244 204h1v5h-1zM245 204h1v5h-1zM246 205h1v3h-1zM247 204h1v4h-1zM248 204h1v4h-1zM249 204h1v5h-1zM250 205h1v4h-1zM251 204h1v5h-1zM252 205h1v4h-1zM253 204h1v4h-1zM254 205h1v4h-1zM255 204h1v5h-1zM256 204h1v5h-1zM257 204h1v4h-1zM258 204h1v5h-1zM259 205h1v4h-1zM260 205h1v4h-1zM261 204h1v5h-1zM262 205h1v3h-1zM263 204h1v5h-1zM264 204h1v5h-1zM265 205h1v3h-1zM266 204h1v5h-1zM267 204h1v5h-1zM268 204h1v5h-1zM269 204h1v5h-1zM270 205h1v3h-1zM271 204h1v5h-1zM272 204h1v4h-1zM273 204h1v4h-1zM274 204h1v5h-1zM275 205h1v3h-1zM276 204h1v5h-1zM277 204h1v5h-1zM278 205h1v4h-1zM279 204h1v5h-1zM280 204h1v4h-1zM281 205h1v4h-1zM282 204h1v5h-1zM283 204h1v4h-1zM284 204h1v5h-1zM285 204h1v4h-1zM286 204h1v4h-1zM287 204h1v4h-1zM288 205h1v3h-1zM289 205h1v4h-1zM290 204h1v4h-1zM291 204h1v5h-1zM292 193h1v5h-1zM293 193h1v5h-1zM294 193h1v5h-1zM295 193h1v4h-1zM296 194h1v4h-1zM297 193h1v5h-1zM298 193h1v5h-1zM299 193h1v5h-1zM300 193h1v4h-1zM301 193h1v5h-1zM302 193h1v5h-1zM303 193h1v5h-1zM304 194h1v4h-1zM305 193h1v5h-1zM306 193h1v4h-1zM307 193h1v5h-1zM308 194h1v4h-1zM309 193h1v4h-1zM310 194h1v3h-1zM311 193h1v5h-1zM312 193h1v4h-1zM313 194h1v4h-1zM314 194h1v4h-1zM315 194h1v3h-1zM316 194h1v4h-1zM317 193h1v5h-1zM318 193h1v5h-1zM319 193h1v5h-1zM320 193h1v5h-1zM321 193h1v5h-1zM322 193h1v5h-1zM323 193h1v5h-1zM324 193h1v4h-1zM325 194h1v3h-1zM326 193h1v5h-1zM327 193h1v5h-1zM328 193h1v5h-1zM329 193h1v5h-1zM330 193h1v4h-1zM331 194h1v3h-1zM332 193h1v5h-1zM333 193h1v4h-1zM334 194h1v4h-1zM335 193h1v5h-1zM336 194h1v3h-1zM337 193h1v5h-1zM338 194h1v4h-1zM339 193h1v5h-1zM340 194h1v4h-1zM341 194h1v4h-1zM342 193h1v5h-1zM343 193h1v5h-1zM344 193h1v5h-1zM345 194h1v3h-1zM346 194h1v4h-1zM347 193h1v5h-1zM348 193h1v5h-1zM349 194h1v4h-1zM350 194h1v4h-1zM351 193h1v5h-1zM352 194h1v4h-1zM353 194h1v4h-1zM354 193h1v5h-1zM355 193h1v5h-1zM356 193h1v5h-1zM357 193h1v5h-1zM358 194h1v4h-1zM359 193h1v5h-1zM360 193h1v5h-1zM361 193h1v4h-1zM362 193h1v5h-1zM363 193h1v5h-1zM364 193h1v4h-1zM365 194h1v4h-1zM366 193h1v5h-1zM367 204h1v4h-1zM368 204h1v5h-1zM369 204h1v5h-1zM370 204h1v5h-1zM371 205h1v4h-1zM372 204h1v4h-1zM373 205h1v4h-1zM374 205h1v4h-1zM375 205h1v4h-1zM376 205h1v4h-1zM377 204h1v5h-1zM378 204h1v4h-1zM379 204h1v5h-1zM380 205h1v3h-1zM381 204h1v4h-1zM382 204h1v5h-1zM383 204h1v4h-1zM384 204h1v4h-1zM385 205h1v4h-1zM386 204h1v4h-1zM387 204h1v5h-1zM388 204h1v5h-1zM389 204h1v5h-1zM390 204h1v5h-1zM391 205h1v4h-1zM392 205h1v3h-1zM393 204h1v4h-1zM394 204h1v5h-1zM395 204h1v5h-1zM396 204h1v4h-1zM397 204h1v4h-1zM398 204h1v5h-1zM399 204h1v5h-1zM400 204h1v5h-1zM401 204h1v5h-1zM402 204h1v5h-1zM403 205h1v4h-1zM404 204h1v5h-1zM405 204h1v5h-1zM406 204h1v5h-1zM407 205h1v4h-1zM408 204h1v5h-1zM409 204h1v5h-1zM410 205h1v4h-1zM411 204h1v5h-1zM412 204h1v4h-1zM413 204h1v5h-1zM414 204h1v5h-1zM415 205h1v4h-1zM416 205h1v4h-1zM417 204h1v5h-1zM418 204h1v5h-1zM419 205h1v4h-1zM420 204h1v5h-1zM421 204h1v5h-1zM422 204h1v5h-1zM423 204h1v5h-1zM424 205h1v3h-1zM425 205h1v4h-1zM426 204h1v5h-1zM427 205h1v3h-1zM428 204h1v5h-1zM429 204h1v5h-1zM430 204h1v5h-1zM431 204h1v5h-1zM432 205h1v4h-1zM433 204h1v4h-1zM434 204h1v5h-1zM435 204h1v4h-1zM436 205h1v3h-1zM437 205h1v4h-1zM438 205h1v4h-1zM439 204h1v5h-1zM440 204h1v4h-1zM441 204h1v5h-1zM442 194h1v4h-1zM443 193h1v5h-1zM444 193h1v4h-1zM445 194h1v4h-1zM446 194h1v4h-1zM447 193h1v4h-1zM448 194h1v3h-1zM449 193h1v4h-1zM450 193h1v5h-1zM451 193h1v5h-1zM452 193h1v5h-1zM453 193h1v5h-1zM454 193h1v4h-1zM455 193h1v5h-1zM456 193h1v5h-1zM457 194h1v4h-1zM458 194h1v3h-1zM459 194h1v4h-1zM460 193h1v5h-1zM461 193h1v5h-1zM462 193h1v5h-1zM463 193h1v4h-1zM464 194h1v3h-1zM465 193h1v5h-1zM466 193h1v4h-1zM467 194h1v4h-1zM468 194h1v3h-1zM469 194h1v4h-1zM470 193h1v4h-1zM471 194h1v4h-1zM472 193h1v4h-1zM473 193h1v5h-1zM474 193h1v5h-1zM475 194h1v3h-1zM476 194h1v3h-1zM477 193h1v5h-1zM478 193h1v5h-1zM479 193h1v4h-1zM480 194h1v4h-1zM481 193h1v5h-1zM482 193h1v4h-1zM483 193h1v5h-1zM484 193h1v5h-1zM485 194h1v4h-1zM486 193h1v5h-1zM487 193h1v4h-1zM488 193h1v5h-1zM489 193h1v5h-1zM490 193h1v5h-1zM491 193h1v4h-1zM492 193h1v5h-1zM493 193h1v5h-1zM494 194h1v3h-1zM495 193h1v5h-1zM496 193h1v5h-1zM497 193h1v5h-1zM498 193h1v5h-1zM499 194h1v4h-1zM500 194h1v4h-1zM501 193h1v4h-1zM502 193h1v5h-1zM503 194h1v4h-1zM504 193h1v5h-1zM505 194h1v4h-1zM506 193h1v4h-1zM507 194h1v4h-1zM508 193h1v4h-1zM509 193h1v5h-1zM510 194h1v4h-1zM511 194h1v4h-1zM512 193h1v5h-1zM513 193h1v5h-1zM514 193h1v4h-1zM515 193h1v5h-1zM516 193h1v5h-1zM517 204h1v4h-1zM518 204h1v5h-1zM519 204h1v5h-1zM520 205h1v4h-1zM521 204h1v5h-1zM67 193h1v17h-1zM142 191h1v19h-1zM217 193h1v17h-1zM292 191h1v19h-1zM367 193h1v17h-1zM442 191h1v19h-1zM517 193h1v17h-1z"/><path fill="#6262ff" d="M22 196h1v1h-1zM23 196h1v2h-1zM24 195h1v3h-1zM25 193h1v2h-1zM26 194h1v2h-1zM27 195h1v2h-1zM28 194h1v3h-1zM29 194h1v2h-1zM30 193h1v3h-1zM31 195h1v1h-1zM32 194h1v3h-1zM33 194h1v2h-1zM34 193h1v3h-1zM35 194h1v2h-1zM36 194h1v2h-1zM37 194h1v3h-1zM38 194h1v3h-1zM39 194h1v3h-1zM40 195h1v2h-1zM41 195h1v2h-1zM42 194h1v2h-1zM43 193h1v2h-1zM44 194h1v3h-1zM45 194h1v3h-1zM46 193h1v3h-1zM47 194h1v3h-1zM48 195h1v3h-1zM49 195h1v1h-1zM50 193h1v2h-1zM51 194h1v3h-1zM52 194h1v3h-1zM53 193h1v3h-1zM54 195h1v2h-1zM55 195h1v2h-1zM56 195h1v3h-1zM57 195h1v1h-1zM58 194h1v2h-1zM59 193h1v2h-1zM60 194h1v3h-1zM61 194h1v1h-1zM62 193h1v2h-1zM63 194h1v3h-1zM64 194h1v3h-1zM65 194h1v3h-1zM66 194h1v3h-1zM67 205h1v3h-1zM68 204h1v3h-1zM69 206h1v3h-1zM70 206h1v3h-1zM71 206h1v3h-1zM72 205h1v2h-1zM73 206h1v2h-1zM74 206h1v2h-1zM75 206h1v2h-1zM76 205h1v2h-1zM77 207h1v2h-1zM78 205h1v2h-1zM79 206h1v3h-1zM80 205h1v3h-1zM81 205h1v2h-1zM82 207h1v2h-1zM83 206h1v2h-1zM84 205h1v3h-1zM85 206h1v2h-1zM86 205h1v3h-1zM87 205h1v3h-1zM88 205h1v3h-1zM89 205h1v2h-1zM90 204h1v2h-1zM91 205h1v3h-1zM92 206h1v1h-1zM93 206h1v2h-1zM94 205h1v3h-1zM95 207h1v1h-1zM96 207h1v1h-1zM97 206h1v2h-1zM98 204h1v3h-1zM99 205h1v2h-1zM100 205h1v2h-1zM101 205h1v2h-1zM102 205h1v3h-1zM103 205h1v3h-1zM104 206h1v2h-1zM105 204h1v2h-1zM106 207h1v2h-1zM107 205h1v1h-1zM108 205h1v2h-1zM109 205h1v3h-1zM110 206h1v2h-1zM111 206h1v1h-1zM112 205h1v3h-1zM113 207h1v2h-1zM114 205h1v1h-1zM115 205h1v3h-1zM116 205h1v2h-1zM117 206h1v3h-1zM118 204h1v3h-1zM119 205h1v3h-1zM120 206h1v2h-1zM121 204h1v3h-1zM122 204h1v3h-1zM123 205h1v2h-1zM124 204h1v3h-1zM125 206h1v2h-1zM126 206h1v2h-1zM127 205h1v3h-1zM128 205h1v2h-1zM129 205h1v3h-1zM130 207h1v1h-1zM131 205h1v1h-1zM132 204h1v3h-1zM133 206h1v2h-1zM134 205h1v2h-1zM135 206h1v3h-1zM136 205h1v2h-1zM137 205h1v3h-1zM138 205h1v3h-1zM139 204h1v3h-1zM140 206h1v1h-1zM141 205h1v3h-1zM142 195h1v3h-1zM143 194h1v2h-1zM144 196h1v2h-1zM145 194h1v3h-1zM146 194h1v2h-1zM147 195h1v2h-1zM148 194h1v3h-1zM149 195h1v2h-1zM150 193h1v2h-1zM151 194h1v2h-1zM152 195h1v2h-1zM153 193h1v3h-1zM154 193h1v3h-1zM155 194h1v3h-1zM156 194h1v2h-1zM157 194h1v2h-1zM158 194h1v2h-1zM159 196h1v2h-1zM160 195h1v2h-1zM161 195h1v3h-1zM162 195h1v2h-1zM163 194h1v3h-1zM164 195h1v1h-1zM165 195h1v1h-1zM166 194h1v2h-1zM167 194h1v3h-1zM168 194h1v3h-1zM169 194h1v3h-1zM170 194h1v3h-1zM171 193h1v3h-1zM172 195h1v2h-1zM173 195h1v2h-1zM174 194h1v2h-1zM175 194h1v2h-1zM176 194h1v3h-1zM177 194h1v3h-1zM178 194h1v2h-1zM179 195h1v2h-1zM180 194h1v3h-1zM181 195h1v1h-1zM182 196h1v2h-1zM183 194h1v2h-1zM184 194h1v3h-1zM185 194h1v3h-1zM186 194h1v2h-1zM187 195h1v1h-1zM188 194h1v3h-1zM189 194h1v3h-1zM190 194h1v2h-1zM191 194h1v3h-1zM192 194h1v1h-1zM193 193h1v2h-1zM194 196h1v2h-1zM195 193h1v3h-1zM196 195h1v1h-1zM197 194h1v2h-1zM198 194h1v2h-1zM199 194h1v1h-1zM200 194h1v2h-1zM201 194h1v3h-1zM202 195h1v3h-1zM203 195h1v2h-1zM204 194h1v3h-1zM205 196h1v2h-1zM206 194h1v2h-1zM207 194h1v2h-1zM208 194h1v3h-1zM209 195h1v3h-1zM210 195h1v1h-1zM211 195h1v3h-1zM212 194h1v2h-1zM213 195h1v2h-1zM214 195h1v2h-1zM215 195h1v2h-1zM216 194h1v1h-1zM217 205h1v3h-1zM218 204h1v3h-1zM219 205h1v2h-1zM220 204h1v3h-1zM221 205h1v3h-1zM222 205h1v2h-1zM223 204h1v2h-1zM224 206h1v2h-1zM225 206h1v2h-1zM226 205h1v2h-1zM227 206h1v3h-1zM228 204h1v3h-1zM229 206h1v1h-1zM230 205h1v2h-1zM231 204h1v2h-1zM232 205h1v2h-1zM233 206h1v2h-1zM234 206h1v2h-1zM235 206h1v2h-1zM236 206h1v2h-1zM237 206h1v3h-1zM238 204h1v2h-1zM239 205h1v2h-1zM240 205h1v3h-1zM241 204h1v3h-1zM242 207h1v2h-1zM243 206h1v3h-1zM244 206h1v3h-1zM245 206h1v1h-1zM246 207h1v2h-1zM247 205h1v3h-1zM248 207h1v2h-1zM249 206h1v1h-1zM250 205h1v3h-1zM251 206h1v3h-1zM252 205h1v3h-1zM253 206h1v2h-1zM254 205h1v3h-1zM255 205h1v2h-1zM256 205h1v3h-1zM257 205h1v3h-1zM258 206h1v3h-1zM259 207h1v2h-1zM260 207h1v2h-1zM261 206h1v2h-1zM262 205h1v3h-1zM263 205h1v3h-1zM264 206h1v1h-1zM265 205h1v2h-1zM266 205h1v2h-1zM267 206h1v1h-1zM268 205h1v3h-1zM269 206h1v2h-1zM270 205h1v3h-1zM271 207h1v2h-1zM272 205h1v3h-1zM273 205h1v3h-1zM274 205h1v2h-1zM275 206h1v1h-1zM276 205h1v2h-1zM277 205h1v3h-1zM278 206h1v2h-1zM279 205h1v2h-1zM280 206h1v2h-1zM281 204h1v3h-1zM282 205h1v3h-1zM283 207h1v2h-1zM284 205h1v3h-1zM285 205h1v3h-1zM286 205h1v3h-1zM287 205h1v2h-1zM288 205h1v2h-1zM289 206h1v2h-1zM290 206h1v2h-1zM291 205h1v2h-1zM292 195h1v2h-1zM293 195h1v3h-1zM294 194h1v3h-1zM295 194h1v3h-1zM296 195h1v2h-1zM297 194h1v2h-1zM298 195h1v3h-1zM299 193h1v3h-1zM300 194h1v3h-1zM301 195h1v3h-1zM302 194h1v2h-1zM303 193h1v3h-1zM304 195h1v2h-1zM305 194h1v3h-1zM306 196h1v2h-1zM307 195h1v2h-1zM308 195h1v3h-1zM309 194h1v3h-1zM310 195h1v1h-1zM311 194h1v2h-1zM312 195h1v3h-1zM313 196h1v2h-1zM314 194h1v3h-1zM315 196h1v2h-1zM316 195h1v2h-1zM317 193h1v3h-1zM318 194h1v3h-1zM319 194h1v3h-1zM320 194h1v3h-1zM321 195h1v3h-1zM322 194h1v2h-1zM323 194h1v2h-1zM324 194h1v2h-1zM325 193h1v3h-1zM326 195h1v1h-1zM327 195h1v1h-1zM328 194h1v1h-1zM329 196h1v2h-1zM330 194h1v3h-1zM331 195h1v2h-1zM332 196h1v1h-1zM333 194h1v2h-1zM334 194h1v2h-1zM335 195h1v1h-1zM336 194h1v3h-1zM337 196h1v2h-1zM338 195h1v1h-1zM339 195h1v2h-1zM340 194h1v2h-1zM341 194h1v2h-1zM342 193h1v2h-1zM343 194h1v1h-1zM344 193h1v2h-1zM345 194h1v2h-1zM346 194h1v3h-1zM347 194h1v3h-1zM348 195h1v3h-1zM349 194h1v3h-1zM350 194h1v3h-1zM351 194h1v3h-1zM352 194h1v3h-1zM353 194h1v2h-1zM354 193h1v3h-1zM355 195h1v3h-1zM356 194h1v2h-1zM357 195h1v2h-1zM358 194h1v3h-1zM359 195h1v2h-1zM360 195h1v2h-1zM361 194h1v2h-1zM362 193h1v3h-1zM363 195h1v2h-1zM364 194h1v3h-1zM365 195h1v2h-1zM366 194h1v2h-1zM367 206h1v2h-1zM368 205h1v3h-1zM369 205h1v3h-1zM370 204h1v2h-1zM371 206h1v3h-1zM372 206h1v2h-1zM373 206h1v2h-1zM374 204h1v2h-1zM375 205h1v2h-1zM376 205h1v2h-1zM377 205h1v3h-1zM378 206h1v2h-1zM379 206h1v1h-1zM380 205h1v3h-1zM381 205h1v3h-1zM382 206h1v2h-1zM383 205h1v3h-1zM384 204h1v3h-1zM385 205h1v2h-1zM386 206h1v2h-1zM387 207h1v2h-1zM388 204h1v3h-1zM389 205h1v1h-1zM390 205h1v2h-1zM391 206h1v2h-1zM392 206h1v2h-1zM393 205h1v2h-1zM394 205h1v3h-1zM395 206h1v3h-1zM396 206h1v1h-1zM397 205h1v3h-1zM398 206h1v3h-1zM399 206h1v2h-1zM400 205h1v3h-1zM401 205h1v3h-1zM402 205h1v3h-1zM403 205h1v2h-1zM404 206h1v2h-1zM405 205h1v3h-1zM406 204h1v3h-1zM407 206h1v2h-1zM408 205h1v2h-1zM409 205h1v3h-1zM410 206h1v2h-1zM411 205h1v3h-1zM412 205h1v3h-1zM413 205h1v2h-1zM414 204h1v3h-1zM415 204h1v3h-1zM416 206h1v3h-1zM417 204h1v3h-1zM418 205h1v3h-1zM419 207h1v2h-1zM420 206h1v1h-1zM421 205h1v2h-1zM422 206h1v3h-1zM423 207h1v1h-1zM424 205h1v3h-1zM425 205h1v3h-1zM426 206h1v1h-1zM427 205h1v3h-1zM428 206h1v2h-1zM429 206h1v2h-1zM430 205h1v2h-1zM431 205h1v2h-1zM432 205h1v3h-1zM433 206h1v2h-1zM434 206h1v1h-1zM435 205h1v3h-1zM436 206h1v3h-1zM437 204h1v3h-1zM438 206h1v1h-1zM439 206h1v2h-1zM440 205h1v3h-1zM441 204h1v3h-1zM442 194h1v2h-1zM443 194h1v2h-1zM444 196h1v2h-1zM445 195h1v2h-1zM446 194h1v3h-1zM447 194h1v3h-1zM448 194h1v2h-1zM449 194h1v1h-1zM450 194h1v2h-1zM451 194h1v2h-1zM452 194h1v2h-1zM453 194h1v2h-1zM454 194h1v2h-1zM455 195h1v1h-1zM456 193h1v2h-1zM457 195h1v3h-1zM458 194h1v3h-1zM459 194h1v2h-1zM460 194h1v2h-1zM461 194h1v3h-1zM462 194h1v2h-1zM463 194h1v2h-1zM464 193h1v2h-1zM465 194h1v3h-1zM466 195h1v2h-1zM467 195h1v2h-1zM468 195h1v1h-1zM469 194h1v2h-1zM470 194h1v2h-1zM471 194h1v2h-1zM472 194h1v3h-1zM473 195h1v2h-1zM474 193h1v3h-1zM475 193h1v3h-1zM476 195h1v2h-1zM477 196h1v1h-1zM478 195h1v2h-1zM479 194h1v3h-1zM480 194h1v2h-1zM481 194h1v3h-1zM482 194h1v2h-1zM483 195h1v2h-1zM484 195h1v2h-1zM485 195h1v3h-1zM486 194h1v3h-1zM487 195h1v1h-1zM488 194h1v2h-1zM489 193h1v3h-1zM490 193h1v3h-1zM491 194h1v3h-1zM492 196h1v1h-1zM493 193h1v2h-1zM494 194h1v1h-1zM495 193h1v2h-1zM496 195h1v2h-1zM497 194h1v2h-1zM498 194h1v2h-1zM499 195h1v2h-1zM500 194h1v3h-1zM501 195h1v1h-1zM502 195h1v3h-1zM503 194h1v2h-1zM504 194h1v2h-1zM505 194h1v3h-1zM506 195h1v2h-1zM507 193h1v3h-1zM508 194h1v2h-1zM509 195h1v1h-1zM510 194h1v2h-1zM511 194h1v3h-1zM512 195h1v2h-1zM513 194h1v2h-1zM514 194h1v2h-1zM515 195h1v1h-1zM516 193h1v2h-1zM517 206h1v3h-1zM518 206h1v2h-1zM519 205h1v3h-1zM520 207h1v2h-1zM521 206h1v3h-1z"/><rect x="117" y="20" width="11" height="1" fill="#ff7800"/><rect x="118" y="21" width="9" height="1" fill="#ff7800"/><rect x="119" y="22" width="7" height="1" fill="#ff7800"/><rect x="120" y="23" width="5" height="1" fill="#ff7800"/><rect x="121" y="24" width="3" height="1" fill="#ff7800"/><rect x="122" y="25" width="1" height="1" fill="#ff7800"/><rect x="117" y="27" width="10" height="1" fill="#ff7800"/><rect x="116" y="28" width="12" height="11" fill="#ff7800"/><rect x="117" y="39" width="10" height="1" fill="#ff7800"/><rect x="119" y="40" width="6" height="1" fill="#ff7800"/><rect x="121" y="41" width="2" height="1" fill="#ff7800"/><rect x="117" y="28" width="10" height="2" fill="#fff"/><rect x="121" y="30" width="2" height="9" fill="#fff"/><rect x="164" y="1" width="1" height="15" fill="#000"/><rect x="164" y="1" width="3" height="1" fill="#000"/><rect x="164" y="15" width="3" height="1" fill="#000"/><rect x="379" y="1" width="1" height="15" fill="#000"/><rect x="377" y="1" width="3" height="1" fill="#000"/><rect x="377" y="15" width="3" height="1" fill="#000"/><rect x="165" y="8" width="214" height="1" fill="#0000a0"/><rect x="204" y="1" width="7" height="1" fill="#ff7800"/><rect x="205" y="2" width="5" height="1" fill="#ff7800"/><rect x="206" y="3" width="3" height="1" fill="#ff7800"/><rect x="207" y="4" width="1" height="1" fill="#ff7800"/><rect x="204" y="5" width="6" height="1" fill="#ff7800"/><rect x="203" y="6" width="8" height="9" fill="#ff7800"/><rect x="204" y="15" width="6" height="1" fill="#ff7800"/><rect x="204" y="6" width="6" height="1" fill="#fff"/><rect x="206" y="7" width="2" height="8" fill="#fff"/><rect x="511" y="415" width="11" height="6" fill="#fff"/><rect x="516" y="415" width="1" height="1" fill="#0000a0"/><rect x="515" y="416" width="2" height="1" fill="#0000a0"/><rect x="514" y="417" width="3" height="1" fill="#0000a0"/><rect x="513" y="418" width="4" height="1" fill="#0000a0"/><rect x="512" y="419" width="5" height="1" fill="#0000a0"/><rect x="511" y="420" width="6" height="1" fill="#0000a0"/><rect x="511" y="420" width="11" height="1" fill="#0000a0"/><rect x="1" y="412" width="12" height="1" fill="#0000a0"/><rect x="1" y="413" width="13" height="1" fill="#0000a0"/><rect x="1" y="414" width="14" height="1" fill="#0000a0"/><rect x="1" y="415" width="15" height="1" fill="#0000a0"/><rect x="1" y="416" width="16" height="1" fill="#0000a0"/><rect x="1" y="417" width="17" height="1" fill="#0000a0"/><rect x="1" y="418" width="18" height="1" fill="#0000a0"/><rect x="1" y="419" width="19" height="1" fill="#0000a0"/><rect x="1" y="420" width="20" height="1" fill="#0000a0"/><rect x="1" y="421" width="19" height="1" fill="#0000a0"/><rect x="1" y="422" width="18" height="1" fill="#0000a0"/><rect x="1" y="423" width="17" height="1" fill="#0000a0"/><rect x="1" y="424" width="16" height="1" fill="#0000a0"/><rect x="1" y="425" width="15" height="1" fill="#0000a0"/><rect x="1" y="426" width="14" height="1" fill="#0000a0"/><rect x="1" y="427" width="13" height="1" fill="#0000a0"/><rect x="1" y="428" width="12" height="1" fill="#0000a0"/><rect x="2" y="412" width="1" height="1" fill="#8c8870"/><rect x="4" y="412" width="1" height="1" fill="#8c8870"/><rect x="6" y="412" width="1" height="1" fill="#8c8870"/><rect x="8" y="412" width="1" height="1" fill="#8c8870"/><rect x="10" y="412" width="1" height="1" fill="#8c8870"/><rect x="12" y="412" width="1" height="1" fill="#8c8870"/><rect x="0" y="412" width="1" height="1" fill="#a8a8a0"/><rect x="0" y="414" width="1" height="1" fill="#a8a8a0"/><rect x="0" y="416" width="1" height="1" fill="#a8a8a0"/><rect x="0" y="418" width="1" height="1" fill="#a8a8a0"/><rect x="0" y="420" width="1" height="1" fill="#a8a8a0"/><rect x="0" y="422" width="1" height="1" fill="#a8a8a0"/><rect x="0" y="424" width="1" height="1" fill="#a8a8a0"/><rect x="0" y="426" width="1" height="1" fill="#a8a8a0"/><rect x="0" y="428" width="1" height="1" fill="#a8a8a0"/><rect x="12" y="413" width="1" height="1" fill="#c8c2a4"/><rect x="12" y="427" width="1" height="1" fill="#fff"/><rect x="13" y="414" width="1" height="1" fill="#c8c2a4"/><rect x="13" y="426" width="1" height="1" fill="#fff"/><rect x="14" y="415" width="1" height="1" fill="#c8c2a4"/><rect x="14" y="425" width="1" height="1" fill="#fff"/><rect x="15" y="416" width="1" height="1" fill="#c8c2a4"/><rect x="15" y="424" width="1" height="1" fill="#fff"/><rect x="16" y="417" width="1" height="1" fill="#c8c2a4"/><rect x="16" y="423" width="1" height="1" fill="#fff"/><rect x="17" y="418" width="1" height="1" fill="#c8c2a4"/><rect x="17" y="422" width="1" height="1" fill="#fff"/><rect x="18" y="419" width="1" height="1" fill="#c8c2a4"/><rect x="18" y="421" width="1" height="1" fill="#fff"/><rect x="2" y="428" width="1" height="1" fill="#fff"/><rect x="4" y="428" width="1" height="1" fill="#fff"/><rect x="6" y="428" width="1" height="1" fill="#fff"/><rect x="8" y="428" width="1" height="1" fill="#fff"/><rect x="10" y="428" width="1" height="1" fill="#fff"/><rect x="12" y="428" width="1" height="1" fill="#fff"/><rect x="8" y="415" width="2" height="11" fill="#fff"/><rect x="6" y="416" width="2" height="2" fill="#fff"/><rect x="19" y="425" width="31" height="16" fill="#0000a0"/><rect x="51" y="424" width="99" height="1" fill="#868686"/><rect x="51" y="424" width="1" height="18" fill="#868686"/><rect x="51" y="441" width="99" height="1" fill="#969696"/><rect x="149" y="424" width="1" height="18" fill="#969696"/><rect x="297" y="424" width="61" height="1" fill="#868686"/><rect x="297" y="424" width="1" height="18" fill="#868686"/><rect x="297" y="441" width="61" height="1" fill="#969696"/><rect x="357" y="424" width="1" height="18" fill="#969696"/><rect x="384" y="425" width="1" height="17" fill="#868686"/><rect x="384" y="441" width="141" height="1" fill="#969696"/><rect x="524" y="425" width="1" height="17" fill="#969696"/><rect x="302" y="462" width="75" height="1" fill="#868686"/><rect x="302" y="462" width="1" height="18" fill="#868686"/><rect x="302" y="479" width="75" height="1" fill="#969696"/><rect x="376" y="462" width="1" height="18" fill="#969696"/><rect x="287" y="464" width="10" height="13" fill="#ff7800"/><rect x="286" y="465" width="12" height="11" fill="#ff7800"/><rect x="287" y="465" width="10" height="2" fill="#fff"/><rect x="291" y="467" width="2" height="9" fill="#fff"/><rect x="439" y="436" width="5" height="2" fill="#000"/><rect x="443" y="434" width="2" height="3" fill="#000"/><rect x="444" y="431" width="2" height="4" fill="#000"/><rect x="445" y="428" width="2" height="4" fill="#000"/><rect x="446" y="427" width="5" height="2" fill="#000"/></svg>
<span class="tek" style="left:-1px;top:-2px;color:#000;">Tek</span><span class="s" style="left:34px;top:0px;color:#000;letter-spacing:0.9px">Stop</span><span class="s" style="left:549px;top:143px;color:#0000a0;">Ch1 Max</span><span class="s" style="left:559.5px;top:159px;color:#0000a0;letter-spacing:0.25px;word-spacing:0">12.3 V</span><span class="s" style="left:549.5px;top:214px;color:#0000a0;letter-spacing:1px">Ch1 Min</span><span class="s" style="left:559.5px;top:230px;color:#0000a0;letter-spacing:0.25px;word-spacing:0">12.1 V</span><span class="s" style="left:20px;top:426px;color:#fff;">Ch1</span><span class="s" style="left:67px;top:426px;color:#0000a0;">500mV</span><span class="s" style="left:283px;top:426px;color:#000;">M</span><span class="s" style="left:298.5px;top:426px;color:#000;letter-spacing:0.8px">40.0ms</span><span class="s" style="left:372px;top:426px;color:#000;">A</span><span class="s" style="left:397px;top:426px;color:#0000a0;">Ch1</span><span class="s" style="left:474px;top:426px;color:#000;letter-spacing:0.25px;word-spacing:0">10.0 V</span><span class="s" style="left:537.5px;top:448px;color:#000;letter-spacing:0.42px;word-spacing:-0.25px">17 Feb&nbsp; 2022</span><span class="s" style="left:537.5px;top:464px;color:#000;letter-spacing:0.68px">12:39:17</span><span class="s" style="left:304px;top:464px;color:#000;">20.00 <i>%</i></span><span class="bw" style="left:139.8px;top:425.5px;color:#0000a0;transform:scaleX(0.72)">B</span><span class="bw" style="left:143.8px;top:429.5px;color:#0000a0;transform:scaleX(0.56)">W</span>
</div></body></html>
